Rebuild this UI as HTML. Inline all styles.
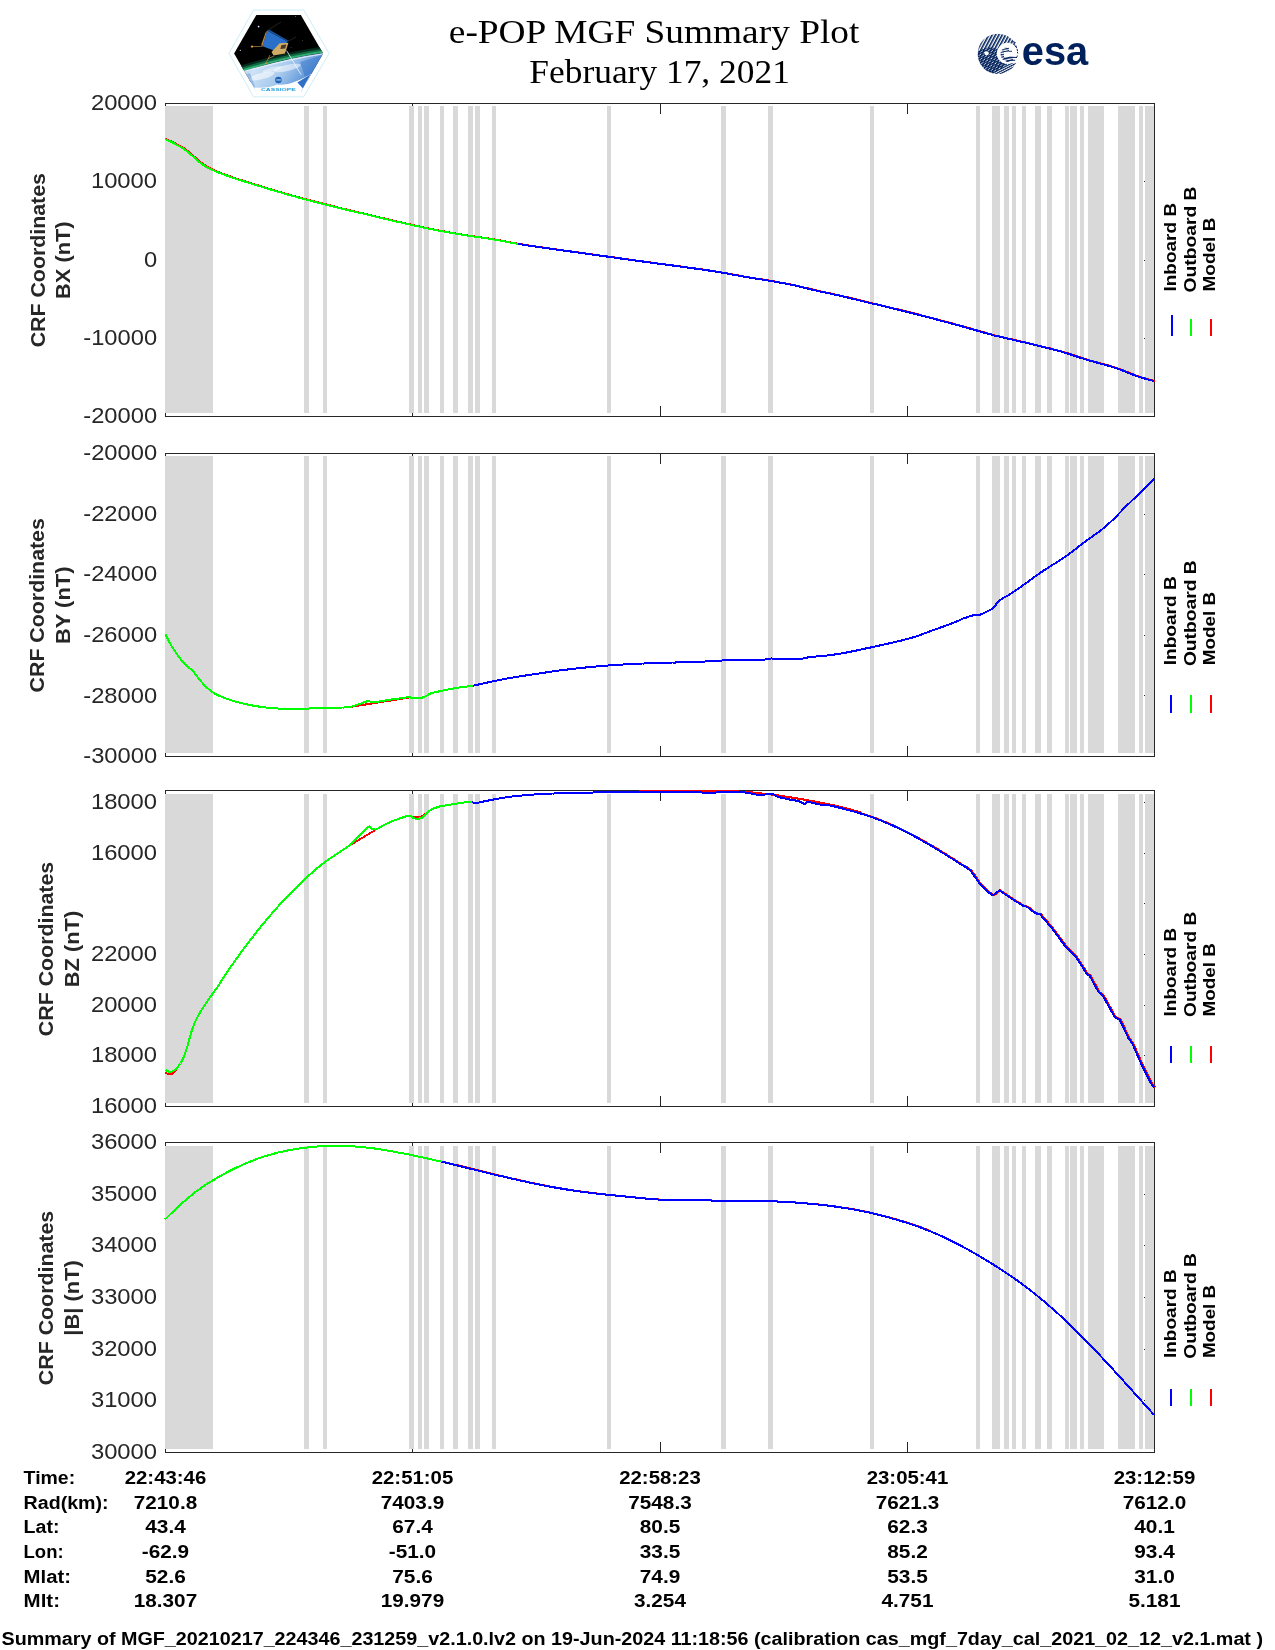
<!DOCTYPE html>
<html lang="en"><head><meta charset="utf-8"><title>e-POP MGF Summary Plot</title>
<style>
html,body{margin:0;padding:0;background:#fff}
body{width:1275px;height:1650px;overflow:hidden}
svg{display:block;opacity:0.999}
.t{font-family:"Liberation Sans",sans-serif;font-size:22.5px;fill:#262626}
.b{font-family:"Liberation Sans",sans-serif;font-weight:bold;fill:#262626}
.k{font-family:"Liberation Sans",sans-serif;font-weight:bold;fill:#000}
.s{font-family:"Liberation Serif",serif;fill:#000}
</style></head>
<body>
<svg width="1275" height="1650" viewBox="0 0 1275 1650">
<rect width="1275" height="1650" fill="#fff"/>
<g class="s" font-size="33" text-anchor="middle">
<text x="654.1" y="43.2" textLength="410.5" lengthAdjust="spacingAndGlyphs">e-POP MGF Summary Plot</text>
<text x="659.6" y="83.4" textLength="260.5" lengthAdjust="spacingAndGlyphs">February 17, 2021</text>
</g>
<defs>
<clipPath id="hx"><polygon points="234.1,53.4 256.35,14.9 300.85,14.9 323.1,53.4 300.85,91.9 256.35,91.9"/></clipPath>
<linearGradient id="eg" x1="0" y1="0" x2="1" y2="0.35"><stop offset="0" stop-color="#4f8fd6"/><stop offset="0.35" stop-color="#cfe2f6"/><stop offset="0.62" stop-color="#a9cbee"/><stop offset="1" stop-color="#3f7fd0"/></linearGradient>
<linearGradient id="ag" x1="0" y1="0" x2="0" y2="1"><stop offset="0" stop-color="#000"/><stop offset="0.45" stop-color="#0e5a3a"/><stop offset="0.8" stop-color="#27a066"/><stop offset="1" stop-color="#5fd09a"/></linearGradient>
<pattern id="ha" width="2.96" height="8" patternUnits="userSpaceOnUse" patternTransform="rotate(28 995 54)"><rect x="0" y="0" width="1.6" height="8" fill="#00205b"/></pattern>
<pattern id="hb" width="8" height="2.1" patternUnits="userSpaceOnUse" patternTransform="rotate(-27 995 54)"><rect x="0" y="0" width="8" height="1.15" fill="#00205b"/></pattern>
<pattern id="hc" width="8" height="2.4" patternUnits="userSpaceOnUse" patternTransform="rotate(-12 1008 54)"><rect x="0" y="0" width="8" height="1.2" fill="#00205b"/></pattern>
<mask id="cres"><rect x="960" y="20" width="80" height="70" fill="#000"/><circle cx="997.9" cy="53.9" r="20.2" fill="#fff"/><circle cx="1007.4" cy="53.4" r="10.6" fill="#000"/><circle cx="986.6" cy="53.3" r="2.1" fill="#000"/></mask>
<clipPath id="ca"><polygon points="973,28 1023,28 1023,50 1005,66 987,78 973,78"/></clipPath>
<clipPath id="cb"><polygon points="973,52 990,47 1001,50 1004,64 1023,62 1023,80 973,80"/></clipPath>
<clipPath id="cg"><path d="M1000,46 h9 v6 h-5 v5 h14 v6 h-18z"/></clipPath>
</defs>
<g id="cassiope">
<polygon points="228.9,53.4 253.6,10 303.7,10 329.2,53.4 303.7,96.8 253.6,96.8" fill="#fff" stroke="#c8eaf5" stroke-width="0.9"/>
<g clip-path="url(#hx)">
<rect x="230" y="12" width="98" height="70" fill="#000"/>
<path d="M230,71.5 Q282,54.5 326,48.6" fill="none" stroke="#06281a" stroke-width="5"/><path d="M230,73 Q282,56 326,50.1" fill="none" stroke="#0f6a43" stroke-width="3.4"/><path d="M230,74.3 Q282,57.3 326,51.4" fill="none" stroke="#2fae70" stroke-width="2"/>
<path d="M230,75.5 Q282,58.5 326,52.6 L326,95 L230,95Z" fill="url(#eg)"/>
<path d="M236,73.8 Q284,59.6 326,53.4" fill="none" stroke="#eaf4ff" stroke-width="1.1" opacity="0.8"/>
<ellipse cx="262" cy="76" rx="13" ry="3.2" fill="#fff" opacity="0.55" transform="rotate(-14 262 76)"/><ellipse cx="287" cy="68" rx="14" ry="3" fill="#fff" opacity="0.5" transform="rotate(-12 287 68)"/><ellipse cx="272" cy="69.5" rx="10" ry="2" fill="#fff" opacity="0.45" transform="rotate(-15 272 69.5)"/><path d="M300,62 L326,54 L326,80 L306,80Z" fill="#2f6fc6" opacity="0.45"/><path d="M236,78 L250,73 L256,90 L244,92Z" fill="#2f6fc6" opacity="0.35"/><path d="M236,95 L236,86.8 L252,87.2 C262,88.6 270,87.6 277,84.6 C287,86 299,81 312,73.6 L326,73 L326,95Z" fill="#fff"/>
<polygon points="297.4,82.6 310.6,74.2 303,88.6" fill="#2f6fc6"/>
<circle cx="278.4" cy="80" r="3.3" fill="#1d63b8"/><rect x="276.3" y="79.5" width="4.6" height="0.9" fill="#dbe9f8"/>
<polygon points="267.2,30.4 287.4,41.6 279.6,52.4 262.4,46.2" fill="#2a6fc8"/>
<polygon points="267.2,30.4 269.6,29.8 289,41 287.4,41.6" fill="#1b4f9a"/>
<polygon points="267.2,30.4 265.4,33 261.2,45 262.4,46.2" fill="#c58a3a"/>
<polygon points="279.6,43.2 288.4,42.8 285,53.6 273.6,55.6 271.5,52" fill="#d1ac66"/>
<polygon points="281.5,45 286.5,44.6 285.2,48.5 280.3,49" fill="#4a3a28"/>
<path d="M262.4,46.4 L252,46.6 M270,55 L266,63.2 M274,56 L268,58.6" stroke="#b98a48" stroke-width="0.7" fill="none"/>
<circle cx="252" cy="46.6" r="1.1" fill="#f0a030"/><circle cx="266" cy="63.4" r="0.8" fill="#e09a30"/>
<path d="M286.6,50.6 L301,74.6" stroke="#f4f8ff" stroke-width="0.8"/>
<path d="M267.4,30.4 L281,22 M287.4,41.6 L296,37" stroke="#554" stroke-width="0.4"/>
<circle cx="258.6" cy="26.6" r="0.85" fill="#e8e8ff"/><circle cx="240.3" cy="50.4" r="0.6" fill="#c9c9ee"/><circle cx="295.4" cy="16.6" r="0.45" fill="#ddd"/><circle cx="302.6" cy="40.4" r="0.4" fill="#999"/><circle cx="291" cy="47.6" r="0.4" fill="#aaa"/>
</g>
<text x="278.4" y="90.6" text-anchor="middle" font-family="Liberation Sans, sans-serif" font-weight="bold" font-size="4" fill="#25a0dc" textLength="35" lengthAdjust="spacingAndGlyphs">CASSIOPE</text>
</g>
<g id="esa">
<g mask="url(#cres)"><rect x="970" y="28" width="50" height="52" fill="url(#ha)" clip-path="url(#ca)"/><rect x="970" y="28" width="50" height="52" fill="url(#hb)" clip-path="url(#cb)"/></g>
<circle cx="1007.4" cy="53.4" r="10.2" fill="none" stroke="#00205b" stroke-width="1" stroke-dasharray="2.2 3.4" stroke-dashoffset="-25" pathLength="64" opacity="0.0"/>
<path d="M1012.5,41.6 l3,0.9 M1014.6,45.6 l2.4,2 M1017,49.4 l0.6,1.6 M1017.4,52 l0.3,1.4 M1017.3,55.6 l-0.3,1.3" stroke="#00205b" stroke-width="1" fill="none"/>
<g><circle cx="1007.8" cy="54.4" r="7.3" fill="url(#hc)" clip-path="url(#cg)"/>
<path d="M1003.6,58.8 q6,-2.6 13.4,-1.3 M1006.4,61.6 q4,-1.6 8.8,-1.4" stroke="#00205b" stroke-width="1" fill="none"/>
<path d="M1009,51.3 h3" stroke="#00205b" stroke-width="0.9"/></g>
<text x="1021.8" y="65.3" font-family="Liberation Sans, sans-serif" font-weight="bold" font-size="40.5" fill="#00205b" textLength="66.4" lengthAdjust="spacingAndGlyphs">esa</text>
</g>
<g id="panel1">
<g fill="#262626" shape-rendering="crispEdges">
<rect x="165" y="103" width="990" height="1"/><rect x="165" y="416" width="990" height="1"/><rect x="165" y="103" width="1" height="314"/><rect x="1154" y="103" width="1" height="314"/>
<rect x="412" y="103" width="1" height="11"/><rect x="412" y="406" width="1" height="11"/><rect x="660" y="103" width="1" height="11"/><rect x="660" y="406" width="1" height="11"/><rect x="907" y="103" width="1" height="11"/><rect x="907" y="406" width="1" height="11"/><rect x="1144" y="181" width="10" height="1"/><rect x="166" y="181" width="10" height="1"/><rect x="1144" y="260" width="10" height="1"/><rect x="166" y="260" width="10" height="1"/><rect x="1144" y="338" width="10" height="1"/><rect x="166" y="338" width="10" height="1"/>
</g>
<g fill="#d9d9d9" shape-rendering="crispEdges"><rect x="165" y="106" width="48" height="307"/><rect x="304" y="106" width="5" height="307"/><rect x="323" y="106" width="4" height="307"/><rect x="409" y="106" width="5" height="307"/><rect x="418" y="106" width="4" height="307"/><rect x="424" y="106" width="5" height="307"/><rect x="440" y="106" width="4" height="307"/><rect x="453" y="106" width="5" height="307"/><rect x="468" y="106" width="5" height="307"/><rect x="475" y="106" width="5" height="307"/><rect x="492" y="106" width="4" height="307"/><rect x="607" y="106" width="4" height="307"/><rect x="721" y="106" width="5" height="307"/><rect x="768" y="106" width="5" height="307"/><rect x="870" y="106" width="4" height="307"/><rect x="976" y="106" width="4" height="307"/><rect x="992" y="106" width="8" height="307"/><rect x="1004" y="106" width="5" height="307"/><rect x="1012" y="106" width="4" height="307"/><rect x="1022" y="106" width="4" height="307"/><rect x="1035" y="106" width="6" height="307"/><rect x="1047" y="106" width="5" height="307"/><rect x="1065" y="106" width="4" height="307"/><rect x="1070" y="106" width="7" height="307"/><rect x="1080" y="106" width="4" height="307"/><rect x="1088" y="106" width="16" height="307"/><rect x="1118" y="106" width="17" height="307"/><rect x="1139" y="106" width="4" height="307"/><rect x="1145" y="106" width="9" height="307"/></g>
<g fill="none" stroke-width="2" stroke-linejoin="round" shape-rendering="crispEdges">
<path d="M166.1,139.0 L168.1,140.0 L170.1,140.9 L172.1,141.9 L174.1,142.9 L176.1,143.9 L178.1,145.0 L180.1,146.1 L182.1,147.2 L184.1,148.4 L186.1,149.7 L188.1,151.4 L190.1,153.1 L192.1,154.8 L194.1,156.5 L196.1,158.3 L198.1,160.0 L200.1,161.7 L202.1,163.4 L204.1,164.7 L206.1,166.1 L208.1,167.4 L210.1,168.3 L212.1,169.3 L214.1,170.2 L216.1,171.1 L218.1,171.9 L220.1,172.7 L222.1,173.5 L224.1,174.3 L226.1,175.0 L228.1,175.7 L230.1,176.4 L232.1,177.1 L234.1,177.8 L236.1,178.5 L238.1,179.1 L240.1,179.8 L242.1,180.4 L244.1,181.1 L246.1,181.7 L248.1,182.3 L250.1,182.9 L252.1,183.6 L254.1,184.2 L256.1,184.8 L258.1,185.4 L260.1,186.0 L262.1,186.6 L264.1,187.2 L266.1,187.8 L268.1,188.5 L270.1,189.1 L272.1,189.7 L274.1,190.3 L276.1,190.9 L278.1,191.5 L280.1,192.0 L282.1,192.6 L284.1,193.2 L286.1,193.8 L288.1,194.4 L290.1,194.9 L292.1,195.5 L294.1,196.0 L296.1,196.6 L298.1,197.1 L300.1,197.7 L302.1,198.2 L304.1,198.8 L306.1,199.3 L308.1,199.8 L310.1,200.3 L312.1,200.8 L314.1,201.4 L316.1,201.9 L318.1,202.4 L320.1,202.9 L322.1,203.4 L324.1,203.9 L326.1,204.4 L328.1,204.9 L330.1,205.4 L332.1,205.9 L334.1,206.4 L336.1,207.0 L338.1,207.5 L340.1,208.0 L342.1,208.5 L344.1,209.0 L346.1,209.4 L348.1,209.9 L350.1,210.4 L352.1,210.9 L354.1,211.3 L356.1,211.8 L358.1,212.2 L360.1,212.7 L362.1,213.2 L364.1,213.6 L366.1,214.1 L368.1,214.6 L370.1,215.1 L372.1,215.5 L374.1,216.0 L376.1,216.5 L378.1,217.0 L380.1,217.5 L382.1,217.9 L384.1,218.4 L386.1,218.9 L388.1,219.3 L390.1,219.8 L392.1,220.3 L394.1,220.7 L396.1,221.2 L398.1,221.7 L400.1,222.1 L402.1,222.6 L404.1,223.0 L406.1,223.5 L408.1,223.9 L410.1,224.4 L412.1,224.8 L414.1,225.3 L416.1,225.7 L418.1,226.2 L420.1,226.6 L422.1,227.0 L424.1,227.5 L426.1,227.9 L428.1,228.3 L430.1,228.7 L432.1,229.1 L434.1,229.5 L436.1,229.9 L438.1,230.3 L440.1,230.7 L442.1,231.0 L444.1,231.4 L446.1,231.8 L448.1,232.1 L450.1,232.5 L452.1,232.8 L454.1,233.2 L456.1,233.5 L458.1,233.9 L460.1,234.2 L462.1,234.5 L464.1,234.8 L466.1,235.2 L468.1,235.5 L470.1,235.8 L472.1,236.1 L474.1,236.4 L476.1,236.7 L478.1,236.9 L480.1,237.2 L482.1,237.5 L484.1,237.8 L486.1,238.1 L488.1,238.4 L490.1,238.7 L492.1,239.1 L494.1,239.4 L496.1,239.7 L498.1,240.1 L500.1,240.4 L502.1,240.8 L504.1,241.2 L506.1,241.6 L508.1,241.9 L510.1,242.3 L512.1,242.7 L514.1,243.1 L516.1,243.4 L518.1,243.8 L520.1,244.1 L522.1,244.4 L524.1,244.8 L526.1,245.1 L528.1,245.4 L530.1,245.7 L532.1,246.0 L534.1,246.3 L536.1,246.5 L538.1,246.8 L540.1,247.1 L542.1,247.4 L544.1,247.7 L546.1,248.0 L548.1,248.2 L550.1,248.5 L552.1,248.8 L554.1,249.1 L556.1,249.4 L558.1,249.6 L560.1,249.9 L562.1,250.2 L564.1,250.5 L566.1,250.8 L568.1,251.0 L570.1,251.3 L572.1,251.6 L574.1,251.9 L576.1,252.2 L578.1,252.4 L580.1,252.7 L582.1,253.0 L584.1,253.3 L586.1,253.5 L588.1,253.8 L590.1,254.1 L592.1,254.4 L594.1,254.7 L596.1,254.9 L598.1,255.2 L600.1,255.5 L602.1,255.8 L604.1,256.0 L606.1,256.3 L608.1,256.6 L610.1,256.9 L612.1,257.2 L614.1,257.4 L616.1,257.7 L618.1,258.0 L620.1,258.3 L622.1,258.6 L624.1,258.8 L626.1,259.1 L628.1,259.4 L630.1,259.7 L632.1,260.0 L634.1,260.2 L636.1,260.5 L638.1,260.8 L640.1,261.1 L642.1,261.3 L644.1,261.6 L646.1,261.9 L648.1,262.2 L650.1,262.4 L652.1,262.7 L654.1,263.0 L656.1,263.2 L658.1,263.5 L660.1,263.8 L662.1,264.0 L664.1,264.3 L666.1,264.5 L668.1,264.8 L670.1,265.0 L672.1,265.3 L674.1,265.6 L676.1,265.8 L678.1,266.1 L680.1,266.4 L682.1,266.6 L684.1,266.9 L686.1,267.2 L688.1,267.5 L690.1,267.7 L692.1,268.0 L694.1,268.3 L696.1,268.6 L698.1,268.9 L700.1,269.1 L702.1,269.4 L704.1,269.7 L706.1,270.0 L708.1,270.3 L710.1,270.6 L712.1,270.9 L714.1,271.2 L716.1,271.5 L718.1,271.8 L720.1,272.2 L722.1,272.5 L724.1,272.8 L726.1,273.2 L728.1,273.5 L730.1,273.9 L732.1,274.3 L734.1,274.7 L736.1,275.0 L738.1,275.4 L740.1,275.8 L742.1,276.1 L744.1,276.5 L746.1,276.9 L748.1,277.2 L750.1,277.5 L752.1,277.9 L754.1,278.2 L756.1,278.5 L758.1,278.8 L760.1,279.1 L762.1,279.4 L764.1,279.8 L766.1,280.1 L768.1,280.4 L770.1,280.7 L772.1,281.1 L774.1,281.4 L776.1,281.8 L778.1,282.1 L780.1,282.5 L782.1,282.9 L784.1,283.2 L786.1,283.6 L788.1,284.0 L790.1,284.4 L792.1,284.8 L794.1,285.2 L796.1,285.6 L798.1,286.1 L800.1,286.5 L802.1,287.0 L804.1,287.5 L806.1,287.9 L808.1,288.4 L810.1,288.9 L812.1,289.4 L814.1,289.9 L816.1,290.3 L818.1,290.8 L820.1,291.2 L822.1,291.7 L824.1,292.1 L826.1,292.5 L828.1,293.0 L830.1,293.4 L832.1,293.8 L834.1,294.3 L836.1,294.7 L838.1,295.2 L840.1,295.6 L842.1,296.1 L844.1,296.5 L846.1,297.0 L848.1,297.4 L850.1,297.9 L852.1,298.4 L854.1,298.9 L856.1,299.3 L858.1,299.8 L860.1,300.3 L862.1,300.8 L864.1,301.2 L866.1,301.7 L868.1,302.2 L870.1,302.7 L872.1,303.2 L874.1,303.7 L876.1,304.1 L878.1,304.6 L880.1,305.1 L882.1,305.6 L884.1,306.1 L886.1,306.5 L888.1,307.0 L890.1,307.5 L892.1,308.0 L894.1,308.5 L896.1,309.0 L898.1,309.4 L900.1,309.9 L902.1,310.4 L904.1,310.9 L906.1,311.4 L908.1,311.9 L910.1,312.4 L912.1,312.9 L914.1,313.4 L916.1,313.9 L918.1,314.4 L920.1,315.0 L922.1,315.5 L924.1,316.0 L926.1,316.5 L928.1,317.0 L930.1,317.6 L932.1,318.1 L934.1,318.6 L936.1,319.1 L938.1,319.7 L940.1,320.2 L942.1,320.7 L944.1,321.2 L946.1,321.8 L948.1,322.3 L950.1,322.9 L952.1,323.4 L954.1,323.9 L956.1,324.5 L958.1,325.0 L960.1,325.6 L962.1,326.1 L964.1,326.7 L966.1,327.2 L968.1,327.8 L970.1,328.4 L972.1,329.0 L974.1,329.5 L976.1,330.1 L978.1,330.7 L980.1,331.3 L982.1,331.9 L984.1,332.4 L986.1,333.0 L988.1,333.6 L990.1,334.1 L992.1,334.6 L994.1,335.2 L996.1,335.7 L998.1,336.2 L1000.1,336.6 L1002.1,337.1 L1004.1,337.6 L1006.1,338.0 L1008.1,338.5 L1010.1,338.9 L1012.1,339.4 L1014.1,339.8 L1016.1,340.3 L1018.1,340.7 L1020.1,341.2 L1022.1,341.7 L1024.1,342.1 L1026.1,342.6 L1028.1,343.1 L1030.1,343.6 L1032.1,344.0 L1034.1,344.5 L1036.1,345.0 L1038.1,345.5 L1040.1,346.0 L1042.1,346.5 L1044.1,347.0 L1046.1,347.5 L1048.1,347.9 L1050.1,348.4 L1052.1,349.0 L1054.1,349.5 L1056.1,350.0 L1058.1,350.5 L1060.1,351.1 L1062.1,351.6 L1064.1,352.2 L1066.1,352.8 L1068.1,353.4 L1070.1,354.1 L1072.1,354.7 L1074.1,355.4 L1076.1,356.0 L1078.1,356.7 L1080.1,357.4 L1082.1,358.0 L1084.1,358.6 L1086.1,359.3 L1088.1,359.9 L1090.1,360.5 L1092.1,361.0 L1094.1,361.6 L1096.1,362.1 L1098.1,362.7 L1100.1,363.2 L1102.1,363.8 L1104.1,364.3 L1106.1,364.8 L1108.1,365.4 L1110.1,366.0 L1112.1,366.6 L1114.1,367.2 L1116.1,367.9 L1118.1,368.5 L1120.1,369.2 L1122.1,370.0 L1124.1,370.7 L1126.1,371.5 L1128.1,372.3 L1130.1,373.2 L1132.1,374.0 L1134.1,374.7 L1136.1,375.5 L1138.1,376.2 L1140.1,376.9 L1142.1,377.5 L1144.1,378.1 L1146.1,378.7 L1148.1,379.3 L1150.1,379.8 L1152.1,380.3 L1154.1,380.8 L1155.1,381.0" stroke="#f00"/>
<path d="M165.1,139.0 L167.1,140.0 L169.1,140.9 L171.1,141.9 L173.1,142.9 L175.1,143.9 L177.1,145.0 L179.1,146.1 L181.1,147.2 L183.1,148.4 L185.1,149.7 L187.1,151.4 L189.1,153.1 L191.1,154.8 L193.1,156.5 L195.1,158.3 L197.1,160.0 L199.1,161.7 L201.1,163.4 L203.1,164.7 L205.1,166.1 L207.1,167.4 L209.1,168.3 L211.1,169.3 L213.1,170.2 L215.1,171.1 L217.1,171.9 L219.1,172.7 L221.1,173.5 L223.1,174.3 L225.1,175.0 L227.1,175.7 L229.1,176.4 L231.1,177.1 L233.1,177.8 L235.1,178.5 L237.1,179.1 L239.1,179.8 L241.1,180.4 L243.1,181.1 L245.1,181.7 L247.1,182.3 L249.1,182.9 L251.1,183.6 L253.1,184.2 L255.1,184.8 L257.1,185.4 L259.1,186.0 L261.1,186.6 L263.1,187.2 L265.1,187.8 L267.1,188.5 L269.1,189.1 L271.1,189.7 L273.1,190.3 L275.1,190.9 L277.1,191.5 L279.1,192.0 L281.1,192.6 L283.1,193.2 L285.1,193.8 L287.1,194.4 L289.1,194.9 L291.1,195.5 L293.1,196.0 L295.1,196.6 L297.1,197.1 L299.1,197.7 L301.1,198.2 L303.1,198.8 L305.1,199.3 L307.1,199.8 L309.1,200.3 L311.1,200.8 L313.1,201.4 L315.1,201.9 L317.1,202.4 L319.1,202.9 L321.1,203.4 L323.1,203.9 L325.1,204.4 L327.1,204.9 L329.1,205.4 L331.1,205.9 L333.1,206.4 L335.1,207.0 L337.1,207.5 L339.1,208.0 L341.1,208.5 L343.1,209.0 L345.1,209.4 L347.1,209.9 L349.1,210.4 L351.1,210.9 L353.1,211.3 L355.1,211.8 L357.1,212.2 L359.1,212.7 L361.1,213.2 L363.1,213.6 L365.1,214.1 L367.1,214.6 L369.1,215.1 L371.1,215.5 L373.1,216.0 L375.1,216.5 L377.1,217.0 L379.1,217.5 L381.1,217.9 L383.1,218.4 L385.1,218.9 L387.1,219.3 L389.1,219.8 L391.1,220.3 L393.1,220.7 L395.1,221.2 L397.1,221.7 L399.1,222.1 L401.1,222.6 L403.1,223.0 L405.1,223.5 L407.1,223.9 L409.1,224.4 L411.1,224.8 L413.1,225.3 L415.1,225.7 L417.1,226.2 L419.1,226.6 L421.1,227.0 L423.1,227.5 L425.1,227.9 L427.1,228.3 L429.1,228.7 L431.1,229.1 L433.1,229.5 L435.1,229.9 L437.1,230.3 L439.1,230.7 L441.1,231.0 L443.1,231.4 L445.1,231.8 L447.1,232.1 L449.1,232.5 L451.1,232.8 L453.1,233.2 L455.1,233.5 L457.1,233.9 L459.1,234.2 L461.1,234.5 L463.1,234.8 L465.1,235.2 L467.1,235.5 L469.1,235.8 L471.1,236.1 L473.1,236.4 L475.1,236.7 L477.1,236.9 L479.1,237.2 L481.1,237.5 L483.1,237.8 L485.1,238.1 L487.1,238.4 L489.1,238.7 L491.1,239.1 L493.1,239.4 L495.1,239.7 L497.1,240.1 L499.1,240.4 L501.1,240.8 L503.1,241.2 L505.1,241.6 L507.1,241.9 L509.1,242.3 L511.1,242.7 L513.1,243.1 L515.1,243.4 L517.1,243.8 L518.0,243.9" stroke="#0f0"/>
<path d="M518.0,243.9 L519.1,244.1 L521.1,244.4 L523.1,244.8 L525.1,245.1 L527.1,245.4 L529.1,245.7 L531.1,246.0 L533.1,246.3 L535.1,246.5 L537.1,246.8 L539.1,247.1 L541.1,247.4 L543.1,247.7 L545.1,248.0 L547.1,248.2 L549.1,248.5 L551.1,248.8 L553.1,249.1 L555.1,249.4 L557.1,249.6 L559.1,249.9 L561.1,250.2 L563.1,250.5 L565.1,250.8 L567.1,251.0 L569.1,251.3 L571.1,251.6 L573.1,251.9 L575.1,252.2 L577.1,252.4 L579.1,252.7 L581.1,253.0 L583.1,253.3 L585.1,253.5 L587.1,253.8 L589.1,254.1 L591.1,254.4 L593.1,254.7 L595.1,254.9 L597.1,255.2 L599.1,255.5 L601.1,255.8 L603.1,256.0 L605.1,256.3 L607.1,256.6 L609.1,256.9 L611.1,257.2 L613.1,257.4 L615.1,257.7 L617.1,258.0 L619.1,258.3 L621.1,258.6 L623.1,258.8 L625.1,259.1 L627.1,259.4 L629.1,259.7 L631.1,260.0 L633.1,260.2 L635.1,260.5 L637.1,260.8 L639.1,261.1 L641.1,261.3 L643.1,261.6 L645.1,261.9 L647.1,262.2 L649.1,262.4 L651.1,262.7 L653.1,263.0 L655.1,263.2 L657.1,263.5 L659.1,263.8 L661.1,264.0 L663.1,264.3 L665.1,264.5 L667.1,264.8 L669.1,265.0 L671.1,265.3 L673.1,265.6 L675.1,265.8 L677.1,266.1 L679.1,266.4 L681.1,266.6 L683.1,266.9 L685.1,267.2 L687.1,267.5 L689.1,267.7 L691.1,268.0 L693.1,268.3 L695.1,268.6 L697.1,268.9 L699.1,269.1 L701.1,269.4 L703.1,269.7 L705.1,270.0 L707.1,270.3 L709.1,270.6 L711.1,270.9 L713.1,271.2 L715.1,271.5 L717.1,271.8 L719.1,272.2 L721.1,272.5 L723.1,272.8 L725.1,273.2 L727.1,273.5 L729.1,273.9 L731.1,274.3 L733.1,274.7 L735.1,275.0 L737.1,275.4 L739.1,275.8 L741.1,276.1 L743.1,276.5 L745.1,276.9 L747.1,277.2 L749.1,277.5 L751.1,277.9 L753.1,278.2 L755.1,278.5 L757.1,278.8 L759.1,279.1 L761.1,279.4 L763.1,279.8 L765.1,280.1 L767.1,280.4 L769.1,280.7 L771.1,281.1 L773.1,281.4 L775.1,281.8 L777.1,282.1 L779.1,282.5 L781.1,282.9 L783.1,283.2 L785.1,283.6 L787.1,284.0 L789.1,284.4 L791.1,284.8 L793.1,285.2 L795.1,285.6 L797.1,286.1 L799.1,286.5 L801.1,287.0 L803.1,287.5 L805.1,287.9 L807.1,288.4 L809.1,288.9 L811.1,289.4 L813.1,289.9 L815.1,290.3 L817.1,290.8 L819.1,291.2 L821.1,291.7 L823.1,292.1 L825.1,292.5 L827.1,293.0 L829.1,293.4 L831.1,293.8 L833.1,294.3 L835.1,294.7 L837.1,295.2 L839.1,295.6 L841.1,296.1 L843.1,296.5 L845.1,297.0 L847.1,297.4 L849.1,297.9 L851.1,298.4 L853.1,298.9 L855.1,299.3 L857.1,299.8 L859.1,300.3 L861.1,300.8 L863.1,301.2 L865.1,301.7 L867.1,302.2 L869.1,302.7 L871.1,303.2 L873.1,303.7 L875.1,304.1 L877.1,304.6 L879.1,305.1 L881.1,305.6 L883.1,306.1 L885.1,306.5 L887.1,307.0 L889.1,307.5 L891.1,308.0 L893.1,308.5 L895.1,309.0 L897.1,309.4 L899.1,309.9 L901.1,310.4 L903.1,310.9 L905.1,311.4 L907.1,311.9 L909.1,312.4 L911.1,312.9 L913.1,313.4 L915.1,313.9 L917.1,314.4 L919.1,315.0 L921.1,315.5 L923.1,316.0 L925.1,316.5 L927.1,317.0 L929.1,317.6 L931.1,318.1 L933.1,318.6 L935.1,319.1 L937.1,319.7 L939.1,320.2 L941.1,320.7 L943.1,321.2 L945.1,321.8 L947.1,322.3 L949.1,322.9 L951.1,323.4 L953.1,323.9 L955.1,324.5 L957.1,325.0 L959.1,325.6 L961.1,326.1 L963.1,326.7 L965.1,327.2 L967.1,327.8 L969.1,328.4 L971.1,329.0 L973.1,329.5 L975.1,330.1 L977.1,330.7 L979.1,331.3 L981.1,331.9 L983.1,332.4 L985.1,333.0 L987.1,333.6 L989.1,334.1 L991.1,334.6 L993.1,335.2 L995.1,335.7 L997.1,336.2 L999.1,336.6 L1001.1,337.1 L1003.1,337.6 L1005.1,338.0 L1007.1,338.5 L1009.1,338.9 L1011.1,339.4 L1013.1,339.8 L1015.1,340.3 L1017.1,340.7 L1019.1,341.2 L1021.1,341.7 L1023.1,342.1 L1025.1,342.6 L1027.1,343.1 L1029.1,343.6 L1031.1,344.0 L1033.1,344.5 L1035.1,345.0 L1037.1,345.5 L1039.1,346.0 L1041.1,346.5 L1043.1,347.0 L1045.1,347.5 L1047.1,347.9 L1049.1,348.4 L1051.1,349.0 L1053.1,349.5 L1055.1,350.0 L1057.1,350.5 L1059.1,351.1 L1061.1,351.6 L1063.1,352.2 L1065.1,352.8 L1067.1,353.4 L1069.1,354.1 L1071.1,354.7 L1073.1,355.4 L1075.1,356.0 L1077.1,356.7 L1079.1,357.4 L1081.1,358.0 L1083.1,358.6 L1085.1,359.3 L1087.1,359.9 L1089.1,360.5 L1091.1,361.0 L1093.1,361.6 L1095.1,362.1 L1097.1,362.7 L1099.1,363.2 L1101.1,363.8 L1103.1,364.3 L1105.1,364.8 L1107.1,365.4 L1109.1,366.0 L1111.1,366.6 L1113.1,367.2 L1115.1,367.9 L1117.1,368.5 L1119.1,369.2 L1121.1,370.0 L1123.1,370.7 L1125.1,371.5 L1127.1,372.3 L1129.1,373.2 L1131.1,374.0 L1133.1,374.7 L1135.1,375.5 L1137.1,376.2 L1139.1,376.9 L1141.1,377.5 L1143.1,378.1 L1145.1,378.7 L1147.1,379.3 L1149.1,379.8 L1151.1,380.3 L1153.1,380.8 L1154.1,381.0" stroke="#00f"/>
</g>
<g class="t" text-anchor="end">
<text x="157.1" y="110.1" textLength="66.2" lengthAdjust="spacingAndGlyphs">20000</text><text x="157.1" y="188.3" textLength="66.2" lengthAdjust="spacingAndGlyphs">10000</text><text x="157.1" y="266.6" textLength="13.2" lengthAdjust="spacingAndGlyphs">0</text><text x="157.1" y="344.9" textLength="73.8" lengthAdjust="spacingAndGlyphs">-10000</text><text x="157.1" y="423.1" textLength="73.8" lengthAdjust="spacingAndGlyphs">-20000</text>
</g>
<g class="b" font-size="19.5" text-anchor="middle"><text transform="translate(44.6,260.2) rotate(-90)" textLength="174.3" lengthAdjust="spacingAndGlyphs">CRF Coordinates</text><text transform="translate(69.9,260.2) rotate(-90)" textLength="77.6" lengthAdjust="spacingAndGlyphs">BX (nT)</text></g>
<g class="k" font-size="17"><text transform="translate(1176.3,291.5) rotate(-90)" textLength="88.6" lengthAdjust="spacingAndGlyphs">Inboard B</text><text transform="translate(1196.3,292.4) rotate(-90)" textLength="105.9" lengthAdjust="spacingAndGlyphs">Outboard B</text><text transform="translate(1215.2,291.5) rotate(-90)" textLength="73.9" lengthAdjust="spacingAndGlyphs">Model B</text></g>
<g shape-rendering="crispEdges"><rect x="1171" y="315" width="2" height="21" fill="#00f"/><rect x="1190" y="319" width="2" height="17" fill="#0f0"/><rect x="1210" y="319" width="2" height="17" fill="#f00"/></g>
</g>
<g id="panel2">
<g fill="#262626" shape-rendering="crispEdges">
<rect x="165" y="453" width="990" height="1"/><rect x="165" y="756" width="990" height="1"/><rect x="165" y="453" width="1" height="304"/><rect x="1154" y="453" width="1" height="304"/>
<rect x="412" y="453" width="1" height="11"/><rect x="412" y="746" width="1" height="11"/><rect x="660" y="453" width="1" height="11"/><rect x="660" y="746" width="1" height="11"/><rect x="907" y="453" width="1" height="11"/><rect x="907" y="746" width="1" height="11"/><rect x="1144" y="514" width="10" height="1"/><rect x="166" y="514" width="10" height="1"/><rect x="1144" y="574" width="10" height="1"/><rect x="166" y="574" width="10" height="1"/><rect x="1144" y="635" width="10" height="1"/><rect x="166" y="635" width="10" height="1"/><rect x="1144" y="695" width="10" height="1"/><rect x="166" y="695" width="10" height="1"/>
</g>
<g fill="#d9d9d9" shape-rendering="crispEdges"><rect x="165" y="456" width="48" height="297"/><rect x="304" y="456" width="5" height="297"/><rect x="323" y="456" width="4" height="297"/><rect x="409" y="456" width="5" height="297"/><rect x="418" y="456" width="4" height="297"/><rect x="424" y="456" width="5" height="297"/><rect x="440" y="456" width="4" height="297"/><rect x="453" y="456" width="5" height="297"/><rect x="468" y="456" width="5" height="297"/><rect x="475" y="456" width="5" height="297"/><rect x="492" y="456" width="4" height="297"/><rect x="607" y="456" width="4" height="297"/><rect x="721" y="456" width="5" height="297"/><rect x="768" y="456" width="5" height="297"/><rect x="870" y="456" width="4" height="297"/><rect x="976" y="456" width="4" height="297"/><rect x="992" y="456" width="8" height="297"/><rect x="1004" y="456" width="5" height="297"/><rect x="1012" y="456" width="4" height="297"/><rect x="1022" y="456" width="4" height="297"/><rect x="1035" y="456" width="6" height="297"/><rect x="1047" y="456" width="5" height="297"/><rect x="1065" y="456" width="4" height="297"/><rect x="1070" y="456" width="7" height="297"/><rect x="1080" y="456" width="4" height="297"/><rect x="1088" y="456" width="16" height="297"/><rect x="1118" y="456" width="17" height="297"/><rect x="1139" y="456" width="4" height="297"/><rect x="1145" y="456" width="9" height="297"/></g>
<g fill="none" stroke-width="2" stroke-linejoin="round" shape-rendering="crispEdges">
<path d="M165.5,634.4 L167.0,637.4 L168.5,640.5 L170.0,643.2 L171.5,645.9 L173.0,648.4 L174.5,650.7 L176.0,652.9 L177.5,655.1 L179.0,657.0 L180.5,659.0 L182.0,661.0 L183.5,662.7 L185.0,664.2 L186.5,665.6 L188.0,667.0 L189.5,668.1 L191.0,669.2 L192.5,670.5 L194.0,672.2 L195.5,674.2 L197.0,676.3 L198.5,678.4 L200.0,680.2 L201.5,681.9 L203.0,683.7 L204.5,685.2 L206.0,686.7 L207.5,688.2 L209.0,689.4 L210.5,690.6 L212.0,691.8 L213.5,692.9 L215.0,693.8 L216.5,694.5 L218.0,695.3 L219.5,695.9 L221.0,696.5 L222.5,697.1 L224.0,697.7 L225.5,698.3 L227.0,698.8 L228.5,699.3 L230.0,699.9 L231.5,700.4 L233.0,700.8 L234.5,701.3 L236.0,701.7 L237.5,702.2 L239.0,702.6 L240.5,702.9 L242.0,703.3 L243.5,703.7 L245.0,704.0 L246.5,704.3 L248.0,704.6 L249.5,704.9 L251.0,705.2 L252.5,705.5 L254.0,705.8 L255.5,706.0 L257.0,706.3 L258.5,706.5 L260.0,706.7 L261.5,706.9 L263.0,707.1 L264.5,707.3 L266.0,707.5 L267.5,707.7 L269.0,707.8 L270.5,707.9 L272.0,708.1 L273.5,708.2 L275.0,708.3 L276.5,708.4 L278.0,708.5 L279.5,708.5 L281.0,708.6 L282.5,708.6 L284.0,708.7 L285.5,708.7 L287.0,708.8 L288.5,708.8 L290.0,708.9 L291.5,708.9 L293.0,708.9 L294.5,708.9 L296.0,708.9 L297.5,708.9 L299.0,708.9 L300.5,708.8 L302.0,708.8 L303.5,708.7 L305.0,708.7 L306.5,708.6 L308.0,708.6 L309.5,708.5 L311.0,708.4 L312.5,708.3 L314.0,708.3 L315.5,708.2 L317.0,708.1 L318.5,708.1 L320.0,708.0 L321.5,708.0 L323.0,708.0 L324.5,707.9 L326.0,707.9 L327.5,707.9 L329.0,707.9 L330.5,707.8 L332.0,707.8 L333.5,707.8 L335.0,707.8 L336.5,707.7 L338.0,707.7 L339.5,707.7 L341.0,707.6 L342.5,707.5 L344.0,707.5 L345.5,707.3 L347.0,707.2 L348.5,707.1 L350.0,707.0 L410.0,697.4 L411.5,697.8 L413.0,698.2 L414.5,698.3 L416.0,698.3 L417.5,698.2 L419.0,698.1 L420.5,698.0 L422.0,697.7 L423.5,697.2 L425.0,696.5 L426.5,695.7 L428.0,694.8 L429.5,693.9 L431.0,693.3 L432.5,693.0 L434.0,692.6 L435.5,692.2 L437.0,691.9 L438.5,691.5 L440.0,691.2 L441.5,690.8 L443.0,690.5 L444.5,690.2 L446.0,689.9 L447.5,689.6 L449.0,689.4 L450.5,689.1 L452.0,688.8 L453.5,688.5 L455.0,688.2 L456.5,687.9 L458.0,687.6 L459.5,687.5 L461.0,687.3 L462.5,687.1 L464.0,686.9 L465.5,686.7 L467.0,686.5 L468.5,686.3 L470.0,686.1 L471.5,685.9 L473.0,685.7 L474.5,685.4 L476.0,685.1 L477.5,684.8 L479.0,684.4 L480.5,684.2 L482.0,683.8 L483.5,683.4 L485.0,683.1 L486.5,682.7 L488.0,682.4 L489.5,682.1 L491.0,681.8 L492.5,681.4 L494.0,681.1 L495.5,680.8 L497.0,680.5 L498.5,680.2 L500.0,679.9 L501.5,679.6 L503.0,679.3 L504.5,679.0 L506.0,678.7 L507.5,678.4 L509.0,678.1 L510.5,677.9 L512.0,677.6 L513.5,677.4 L515.0,677.1 L516.5,676.9 L518.0,676.6 L519.5,676.4 L521.0,676.2 L522.5,675.9 L524.0,675.7 L525.5,675.5 L527.0,675.3 L528.5,675.0 L530.0,674.8 L531.5,674.6 L533.0,674.4 L534.5,674.1 L536.0,673.9 L537.5,673.7 L539.0,673.5 L540.5,673.2 L542.0,673.0 L543.5,672.8 L545.0,672.6 L546.5,672.3 L548.0,672.1 L549.5,671.9 L551.0,671.7 L552.5,671.4 L554.0,671.2 L555.5,671.0 L557.0,670.8 L558.5,670.6 L560.0,670.4 L561.5,670.2 L563.0,670.0 L564.5,669.9 L566.0,669.7 L567.5,669.5 L569.0,669.3 L570.5,669.2 L572.0,669.0 L573.5,668.8 L575.0,668.6 L576.5,668.5 L578.0,668.3 L579.5,668.2 L581.0,668.0 L582.5,667.8 L584.0,667.7 L585.5,667.5 L587.0,667.4 L588.5,667.2 L590.0,667.1 L591.5,666.9 L593.0,666.8 L594.5,666.6 L596.0,666.5 L597.5,666.3 L599.0,666.2 L600.5,666.1 L602.0,666.0 L603.5,665.8 L605.0,665.7 L606.5,665.6 L608.0,665.5 L609.5,665.4 L611.0,665.3 L612.5,665.1 L614.0,665.0 L615.5,664.9 L617.0,664.9 L618.5,664.8 L620.0,664.7 L621.5,664.6 L623.0,664.5 L624.5,664.4 L626.0,664.3 L627.5,664.2 L629.0,664.2 L630.5,664.1 L632.0,664.0 L633.5,663.9 L635.0,663.9 L636.5,663.8 L638.0,663.7 L639.5,663.7 L641.0,663.6 L642.5,663.5 L644.0,663.5 L645.5,663.4 L647.0,663.4 L648.5,663.3 L650.0,663.3 L651.5,663.2 L653.0,663.1 L654.5,663.1 L656.0,663.0 L657.5,663.0 L659.0,662.9 L660.5,662.9 L662.0,662.9 L663.5,662.8 L665.0,662.8 L666.5,662.7 L668.0,662.7 L669.5,662.6 L671.0,662.6 L672.5,662.5 L674.0,662.5 L675.5,662.5 L677.0,662.4 L678.5,662.4 L680.0,662.3 L681.5,662.3 L683.0,662.2 L684.5,662.2 L686.0,662.2 L687.5,662.1 L689.0,662.1 L690.5,662.0 L692.0,662.0 L693.5,662.0 L695.0,661.9 L696.5,661.9 L698.0,661.8 L699.5,661.8 L701.0,661.7 L702.5,661.6 L704.0,661.6 L705.5,661.5 L707.0,661.4 L708.5,661.3 L710.0,661.2 L711.5,661.1 L713.0,661.0 L714.5,661.0 L716.0,660.9 L717.5,660.8 L719.0,660.7 L720.5,660.6 L722.0,660.5 L723.5,660.4 L725.0,660.4 L726.5,660.3 L728.0,660.2 L729.5,660.2 L731.0,660.1 L732.5,660.1 L734.0,660.1 L735.5,660.0 L737.0,660.0 L738.5,660.0 L740.0,660.0 L741.5,660.0 L743.0,659.9 L744.5,659.9 L746.0,659.9 L747.5,659.9 L749.0,659.9 L750.5,659.9 L752.0,659.8 L753.5,659.8 L755.0,659.7 L756.5,659.7 L758.0,659.7 L759.5,659.7 L761.0,659.7 L762.5,659.6 L764.0,659.6 L765.5,659.4 L767.0,659.2 L768.5,658.9 L770.0,658.6 L771.5,658.4 L773.0,658.6 L774.5,658.7 L776.0,658.9 L777.5,659.0 L779.0,659.0 L780.5,659.0 L782.0,658.9 L783.5,658.9 L785.0,658.9 L786.5,658.9 L788.0,658.9 L789.5,658.9 L791.0,658.8 L792.5,658.8 L794.0,658.8 L795.5,658.8 L797.0,658.8 L798.5,658.7 L800.0,658.7 L801.5,658.7 L803.0,658.5 L804.5,658.0 L806.0,657.7 L807.5,657.5 L809.0,657.4 L810.5,657.2 L812.0,657.1 L813.5,656.7 L815.0,656.6 L816.5,656.4 L818.0,656.3 L819.5,656.2 L821.0,656.1 L822.5,655.9 L824.0,655.8 L825.5,655.6 L827.0,655.5 L828.5,655.3 L830.0,655.1 L831.5,654.9 L833.0,654.7 L834.5,654.5 L836.0,654.3 L837.5,654.1 L839.0,653.9 L840.5,653.6 L842.0,653.4 L843.5,653.1 L845.0,652.8 L846.5,652.5 L848.0,652.2 L849.5,651.9 L851.0,651.6 L852.5,651.3 L854.0,651.0 L855.5,650.7 L857.0,650.4 L858.5,650.0 L860.0,649.7 L861.5,649.4 L863.0,649.1 L864.5,648.8 L866.0,648.4 L867.5,648.1 L869.0,647.8 L870.5,647.5 L872.0,647.1 L873.5,646.8 L875.0,646.5 L876.5,646.2 L878.0,645.8 L879.5,645.5 L881.0,645.2 L882.5,644.9 L884.0,644.5 L885.5,644.2 L887.0,643.9 L888.5,643.5 L890.0,643.2 L891.5,642.8 L893.0,642.5 L894.5,642.1 L896.0,641.8 L897.5,641.4 L899.0,641.1 L900.5,640.7 L902.0,640.4 L903.5,640.0 L905.0,639.6 L906.5,639.2 L908.0,638.8 L909.5,638.4 L911.0,638.0 L912.5,637.5 L914.0,637.1 L915.5,636.6 L917.0,636.1 L918.5,635.6 L920.0,635.0 L921.5,634.5 L923.0,634.0 L924.5,633.4 L926.0,632.8 L927.5,632.3 L929.0,631.7 L930.5,631.2 L932.0,630.6 L933.5,630.1 L935.0,629.5 L936.5,629.0 L938.0,628.5 L939.5,627.9 L941.0,627.4 L942.5,626.9 L944.0,626.3 L945.5,625.8 L947.0,625.2 L948.5,624.7 L950.0,624.1 L951.5,623.5 L953.0,623.0 L954.5,622.4 L956.0,621.8 L957.5,621.1 L959.0,620.4 L960.5,619.7 L962.0,619.0 L963.5,618.3 L965.0,618.2 L966.5,617.5 L968.0,616.9 L969.5,616.3 L971.0,615.7 L972.5,615.5 L974.0,615.4 L975.5,615.2 L977.0,615.0 L978.5,614.8 L980.0,614.6 L981.5,614.3 L983.0,613.5 L984.5,612.8 L986.0,612.1 L987.5,611.3 L989.0,610.6 L990.5,609.9 L992.0,609.1 L993.5,607.9 L995.0,605.9 L996.5,603.8 L998.0,601.8 L999.5,600.3 L1001.0,599.4 L1002.5,598.6 L1004.0,597.6 L1005.5,596.8 L1007.0,596.0 L1008.5,595.2 L1010.0,594.2 L1011.5,593.3 L1013.0,592.3 L1014.5,591.3 L1016.0,590.3 L1017.5,589.2 L1019.0,588.2 L1020.5,587.1 L1022.0,586.1 L1023.5,585.0 L1025.0,583.9 L1026.5,582.8 L1028.0,581.7 L1029.5,580.6 L1031.0,579.5 L1032.5,578.4 L1034.0,577.3 L1035.5,576.2 L1037.0,575.1 L1038.5,574.1 L1040.0,573.0 L1041.5,572.0 L1043.0,571.0 L1044.5,570.0 L1046.0,569.0 L1047.5,568.1 L1049.0,567.1 L1050.5,566.2 L1052.0,565.3 L1053.5,564.3 L1055.0,563.4 L1056.5,562.5 L1058.0,561.6 L1059.5,560.6 L1061.0,559.6 L1062.5,558.6 L1064.0,557.6 L1065.5,556.6 L1067.0,555.5 L1068.5,554.4 L1070.0,553.3 L1071.5,552.1 L1073.0,551.0 L1074.5,549.8 L1076.0,548.7 L1077.5,547.5 L1079.0,546.3 L1080.5,545.2 L1082.0,544.0 L1083.5,542.9 L1085.0,541.8 L1086.5,540.7 L1088.0,539.6 L1089.5,538.5 L1091.0,537.4 L1092.5,536.4 L1094.0,535.3 L1095.5,534.2 L1097.0,533.2 L1098.5,532.1 L1100.0,530.9 L1101.5,529.8 L1103.0,528.6 L1104.5,527.4 L1106.0,526.1 L1107.5,524.8 L1109.0,523.4 L1110.5,522.0 L1112.0,520.6 L1113.5,519.1 L1115.0,517.6 L1116.5,516.1 L1118.0,514.6 L1119.5,513.0 L1121.0,511.5 L1122.5,509.9 L1124.0,508.4 L1125.5,506.9 L1127.0,505.4 L1128.5,503.9 L1130.0,502.5 L1131.5,501.0 L1133.0,499.6 L1134.5,498.2 L1136.0,496.8 L1137.5,495.4 L1139.0,494.0 L1140.5,492.6 L1142.0,491.2 L1143.5,489.8 L1145.0,488.3 L1146.5,486.9 L1148.0,485.4 L1149.5,483.9 L1151.0,482.4 L1152.5,480.8 L1154.0,479.3 L1154.5,478.8" stroke="#f00"/>
<path d="M165.5,634.4 L167.0,637.4 L168.5,640.5 L170.0,643.2 L171.5,645.9 L173.0,648.4 L174.5,650.7 L176.0,652.9 L177.5,655.1 L179.0,657.0 L180.5,659.0 L182.0,661.0 L183.5,662.7 L185.0,664.2 L186.5,665.6 L188.0,667.0 L189.5,668.1 L191.0,669.2 L192.5,670.5 L194.0,672.2 L195.5,674.2 L197.0,676.3 L198.5,678.4 L200.0,680.2 L201.5,681.9 L203.0,683.7 L204.5,685.2 L206.0,686.7 L207.5,688.2 L209.0,689.4 L210.5,690.6 L212.0,691.8 L213.5,692.9 L215.0,693.8 L216.5,694.5 L218.0,695.3 L219.5,695.9 L221.0,696.5 L222.5,697.1 L224.0,697.7 L225.5,698.3 L227.0,698.8 L228.5,699.3 L230.0,699.9 L231.5,700.4 L233.0,700.8 L234.5,701.3 L236.0,701.7 L237.5,702.2 L239.0,702.6 L240.5,702.9 L242.0,703.3 L243.5,703.7 L245.0,704.0 L246.5,704.3 L248.0,704.6 L249.5,704.9 L251.0,705.2 L252.5,705.5 L254.0,705.8 L255.5,706.0 L257.0,706.3 L258.5,706.5 L260.0,706.7 L261.5,706.9 L263.0,707.1 L264.5,707.3 L266.0,707.5 L267.5,707.7 L269.0,707.8 L270.5,707.9 L272.0,708.1 L273.5,708.2 L275.0,708.3 L276.5,708.4 L278.0,708.5 L279.5,708.5 L281.0,708.6 L282.5,708.6 L284.0,708.7 L285.5,708.7 L287.0,708.8 L288.5,708.8 L290.0,708.9 L291.5,708.9 L293.0,708.9 L294.5,708.9 L296.0,708.9 L297.5,708.9 L299.0,708.9 L300.5,708.8 L302.0,708.8 L303.5,708.7 L305.0,708.7 L306.5,708.6 L308.0,708.6 L309.5,708.5 L311.0,708.4 L312.5,708.3 L314.0,708.3 L315.5,708.2 L317.0,708.1 L318.5,708.1 L320.0,708.0 L321.5,708.0 L323.0,708.0 L324.5,707.9 L326.0,707.9 L327.5,707.9 L329.0,707.9 L330.5,707.8 L332.0,707.8 L333.5,707.8 L335.0,707.8 L336.5,707.7 L338.0,707.7 L339.5,707.7 L341.0,707.6 L342.5,707.5 L344.0,707.5 L345.5,707.3 L347.0,707.2 L348.5,707.1 L350.0,707.0 L351.5,706.7 L353.0,706.2 L354.5,705.7 L356.0,705.2 L357.5,704.6 L359.0,704.1 L360.5,703.6 L362.0,703.1 L363.5,702.5 L365.0,702.0 L366.5,701.5 L368.0,701.0 L369.5,701.4 L371.0,701.9 L372.5,702.5 L374.0,702.4 L375.5,702.1 L377.0,701.9 L378.5,701.6 L380.0,701.4 L381.5,701.1 L383.0,700.8 L384.5,700.6 L386.0,700.3 L387.5,700.0 L389.0,699.8 L390.5,699.6 L392.0,699.4 L393.5,699.2 L395.0,699.0 L396.5,698.8 L398.0,698.6 L399.5,698.4 L401.0,698.2 L402.5,698.0 L404.0,697.8 L405.5,697.6 L407.0,697.4 L408.5,697.2 L410.0,697.4 L411.5,697.8 L413.0,698.2 L414.5,698.3 L416.0,698.3 L417.5,698.2 L419.0,698.1 L420.5,698.0 L422.0,697.7 L423.5,697.2 L425.0,696.5 L426.5,695.7 L428.0,694.8 L429.5,693.9 L431.0,693.3 L432.5,693.0 L434.0,692.6 L435.5,692.2 L437.0,691.9 L438.5,691.5 L440.0,691.2 L441.5,690.8 L443.0,690.5 L444.5,690.2 L446.0,689.9 L447.5,689.6 L449.0,689.4 L450.5,689.1 L452.0,688.8 L453.5,688.5 L455.0,688.2 L456.5,687.9 L458.0,687.6 L459.5,687.5 L461.0,687.3 L462.5,687.1 L464.0,686.9 L465.5,686.7 L467.0,686.5 L468.5,686.3 L470.0,686.1 L471.5,685.9 L473.0,685.7" stroke="#0f0"/>
<path d="M473.0,685.7 L474.5,685.4 L476.0,685.1 L477.5,684.8 L479.0,684.4 L480.5,684.2 L482.0,683.8 L483.5,683.4 L485.0,683.1 L486.5,682.7 L488.0,682.4 L489.5,682.1 L491.0,681.8 L492.5,681.4 L494.0,681.1 L495.5,680.8 L497.0,680.5 L498.5,680.2 L500.0,679.9 L501.5,679.6 L503.0,679.3 L504.5,679.0 L506.0,678.7 L507.5,678.4 L509.0,678.1 L510.5,677.9 L512.0,677.6 L513.5,677.4 L515.0,677.1 L516.5,676.9 L518.0,676.6 L519.5,676.4 L521.0,676.2 L522.5,675.9 L524.0,675.7 L525.5,675.5 L527.0,675.3 L528.5,675.0 L530.0,674.8 L531.5,674.6 L533.0,674.4 L534.5,674.1 L536.0,673.9 L537.5,673.7 L539.0,673.5 L540.5,673.2 L542.0,673.0 L543.5,672.8 L545.0,672.6 L546.5,672.3 L548.0,672.1 L549.5,671.9 L551.0,671.7 L552.5,671.4 L554.0,671.2 L555.5,671.0 L557.0,670.8 L558.5,670.6 L560.0,670.4 L561.5,670.2 L563.0,670.0 L564.5,669.9 L566.0,669.7 L567.5,669.5 L569.0,669.3 L570.5,669.2 L572.0,669.0 L573.5,668.8 L575.0,668.6 L576.5,668.5 L578.0,668.3 L579.5,668.2 L581.0,668.0 L582.5,667.8 L584.0,667.7 L585.5,667.5 L587.0,667.4 L588.5,667.2 L590.0,667.1 L591.5,666.9 L593.0,666.8 L594.5,666.6 L596.0,666.5 L597.5,666.3 L599.0,666.2 L600.5,666.1 L602.0,666.0 L603.5,665.8 L605.0,665.7 L606.5,665.6 L608.0,665.5 L609.5,665.4 L611.0,665.3 L612.5,665.1 L614.0,665.0 L615.5,664.9 L617.0,664.9 L618.5,664.8 L620.0,664.7 L621.5,664.6 L623.0,664.5 L624.5,664.4 L626.0,664.3 L627.5,664.2 L629.0,664.2 L630.5,664.1 L632.0,664.0 L633.5,663.9 L635.0,663.9 L636.5,663.8 L638.0,663.7 L639.5,663.7 L641.0,663.6 L642.5,663.5 L644.0,663.5 L645.5,663.4 L647.0,663.4 L648.5,663.3 L650.0,663.3 L651.5,663.2 L653.0,663.1 L654.5,663.1 L656.0,663.0 L657.5,663.0 L659.0,662.9 L660.5,662.9 L662.0,662.9 L663.5,662.8 L665.0,662.8 L666.5,662.7 L668.0,662.7 L669.5,662.6 L671.0,662.6 L672.5,662.5 L674.0,662.5 L675.5,662.5 L677.0,662.4 L678.5,662.4 L680.0,662.3 L681.5,662.3 L683.0,662.2 L684.5,662.2 L686.0,662.2 L687.5,662.1 L689.0,662.1 L690.5,662.0 L692.0,662.0 L693.5,662.0 L695.0,661.9 L696.5,661.9 L698.0,661.8 L699.5,661.8 L701.0,661.7 L702.5,661.6 L704.0,661.6 L705.5,661.5 L707.0,661.4 L708.5,661.3 L710.0,661.2 L711.5,661.1 L713.0,661.0 L714.5,661.0 L716.0,660.9 L717.5,660.8 L719.0,660.7 L720.5,660.6 L722.0,660.5 L723.5,660.4 L725.0,660.4 L726.5,660.3 L728.0,660.2 L729.5,660.2 L731.0,660.1 L732.5,660.1 L734.0,660.1 L735.5,660.0 L737.0,660.0 L738.5,660.0 L740.0,660.0 L741.5,660.0 L743.0,659.9 L744.5,659.9 L746.0,659.9 L747.5,659.9 L749.0,659.9 L750.5,659.9 L752.0,659.8 L753.5,659.8 L755.0,659.7 L756.5,659.7 L758.0,659.7 L759.5,659.7 L761.0,659.7 L762.5,659.6 L764.0,659.6 L765.5,659.4 L767.0,659.2 L768.5,658.9 L770.0,658.6 L771.5,658.4 L773.0,658.6 L774.5,658.7 L776.0,658.9 L777.5,659.0 L779.0,659.0 L780.5,659.0 L782.0,658.9 L783.5,658.9 L785.0,658.9 L786.5,658.9 L788.0,658.9 L789.5,658.9 L791.0,658.8 L792.5,658.8 L794.0,658.8 L795.5,658.8 L797.0,658.8 L798.5,658.7 L800.0,658.7 L801.5,658.7 L803.0,658.5 L804.5,658.0 L806.0,657.7 L807.5,657.5 L809.0,657.4 L810.5,657.2 L812.0,657.1 L813.5,656.7 L815.0,656.6 L816.5,656.4 L818.0,656.3 L819.5,656.2 L821.0,656.1 L822.5,655.9 L824.0,655.8 L825.5,655.6 L827.0,655.5 L828.5,655.3 L830.0,655.1 L831.5,654.9 L833.0,654.7 L834.5,654.5 L836.0,654.3 L837.5,654.1 L839.0,653.9 L840.5,653.6 L842.0,653.4 L843.5,653.1 L845.0,652.8 L846.5,652.5 L848.0,652.2 L849.5,651.9 L851.0,651.6 L852.5,651.3 L854.0,651.0 L855.5,650.7 L857.0,650.4 L858.5,650.0 L860.0,649.7 L861.5,649.4 L863.0,649.1 L864.5,648.8 L866.0,648.4 L867.5,648.1 L869.0,647.8 L870.5,647.5 L872.0,647.1 L873.5,646.8 L875.0,646.5 L876.5,646.2 L878.0,645.8 L879.5,645.5 L881.0,645.2 L882.5,644.9 L884.0,644.5 L885.5,644.2 L887.0,643.9 L888.5,643.5 L890.0,643.2 L891.5,642.8 L893.0,642.5 L894.5,642.1 L896.0,641.8 L897.5,641.4 L899.0,641.1 L900.5,640.7 L902.0,640.4 L903.5,640.0 L905.0,639.6 L906.5,639.2 L908.0,638.8 L909.5,638.4 L911.0,638.0 L912.5,637.5 L914.0,637.1 L915.5,636.6 L917.0,636.1 L918.5,635.6 L920.0,635.0 L921.5,634.5 L923.0,634.0 L924.5,633.4 L926.0,632.8 L927.5,632.3 L929.0,631.7 L930.5,631.2 L932.0,630.6 L933.5,630.1 L935.0,629.5 L936.5,629.0 L938.0,628.5 L939.5,627.9 L941.0,627.4 L942.5,626.9 L944.0,626.3 L945.5,625.8 L947.0,625.2 L948.5,624.7 L950.0,624.1 L951.5,623.5 L953.0,623.0 L954.5,622.4 L956.0,621.8 L957.5,621.1 L959.0,620.4 L960.5,619.7 L962.0,619.0 L963.5,618.3 L965.0,618.2 L966.5,617.5 L968.0,616.9 L969.5,616.3 L971.0,615.7 L972.5,615.5 L974.0,615.4 L975.5,615.2 L977.0,615.0 L978.5,614.8 L980.0,614.6 L981.5,614.3 L983.0,613.5 L984.5,612.8 L986.0,612.1 L987.5,611.3 L989.0,610.6 L990.5,609.9 L992.0,609.1 L993.5,607.9 L995.0,605.9 L996.5,603.8 L998.0,601.8 L999.5,600.3 L1001.0,599.4 L1002.5,598.6 L1004.0,597.6 L1005.5,596.8 L1007.0,596.0 L1008.5,595.2 L1010.0,594.2 L1011.5,593.3 L1013.0,592.3 L1014.5,591.3 L1016.0,590.3 L1017.5,589.2 L1019.0,588.2 L1020.5,587.1 L1022.0,586.1 L1023.5,585.0 L1025.0,583.9 L1026.5,582.8 L1028.0,581.7 L1029.5,580.6 L1031.0,579.5 L1032.5,578.4 L1034.0,577.3 L1035.5,576.2 L1037.0,575.1 L1038.5,574.1 L1040.0,573.0 L1041.5,572.0 L1043.0,571.0 L1044.5,570.0 L1046.0,569.0 L1047.5,568.1 L1049.0,567.1 L1050.5,566.2 L1052.0,565.3 L1053.5,564.3 L1055.0,563.4 L1056.5,562.5 L1058.0,561.6 L1059.5,560.6 L1061.0,559.6 L1062.5,558.6 L1064.0,557.6 L1065.5,556.6 L1067.0,555.5 L1068.5,554.4 L1070.0,553.3 L1071.5,552.1 L1073.0,551.0 L1074.5,549.8 L1076.0,548.7 L1077.5,547.5 L1079.0,546.3 L1080.5,545.2 L1082.0,544.0 L1083.5,542.9 L1085.0,541.8 L1086.5,540.7 L1088.0,539.6 L1089.5,538.5 L1091.0,537.4 L1092.5,536.4 L1094.0,535.3 L1095.5,534.2 L1097.0,533.2 L1098.5,532.1 L1100.0,530.9 L1101.5,529.8 L1103.0,528.6 L1104.5,527.4 L1106.0,526.1 L1107.5,524.8 L1109.0,523.4 L1110.5,522.0 L1112.0,520.6 L1113.5,519.1 L1115.0,517.6 L1116.5,516.1 L1118.0,514.6 L1119.5,513.0 L1121.0,511.5 L1122.5,509.9 L1124.0,508.4 L1125.5,506.9 L1127.0,505.4 L1128.5,503.9 L1130.0,502.5 L1131.5,501.0 L1133.0,499.6 L1134.5,498.2 L1136.0,496.8 L1137.5,495.4 L1139.0,494.0 L1140.5,492.6 L1142.0,491.2 L1143.5,489.8 L1145.0,488.3 L1146.5,486.9 L1148.0,485.4 L1149.5,483.9 L1151.0,482.4 L1152.5,480.8 L1154.0,479.3 L1154.5,478.8" stroke="#00f"/>
</g>
<g class="t" text-anchor="end">
<text x="157.1" y="460.1" textLength="73.8" lengthAdjust="spacingAndGlyphs">-20000</text><text x="157.1" y="520.7" textLength="73.8" lengthAdjust="spacingAndGlyphs">-22000</text><text x="157.1" y="581.3" textLength="73.8" lengthAdjust="spacingAndGlyphs">-24000</text><text x="157.1" y="641.9" textLength="73.8" lengthAdjust="spacingAndGlyphs">-26000</text><text x="157.1" y="702.5" textLength="73.8" lengthAdjust="spacingAndGlyphs">-28000</text><text x="157.1" y="763.1" textLength="73.8" lengthAdjust="spacingAndGlyphs">-30000</text>
</g>
<g class="b" font-size="19.5" text-anchor="middle"><text transform="translate(44.4,605.3) rotate(-90)" textLength="174.3" lengthAdjust="spacingAndGlyphs">CRF Coordinates</text><text transform="translate(70.1,605.3) rotate(-90)" textLength="77.6" lengthAdjust="spacingAndGlyphs">BY (nT)</text></g>
<g class="k" font-size="17"><text transform="translate(1176.3,665.3) rotate(-90)" textLength="89.1" lengthAdjust="spacingAndGlyphs">Inboard B</text><text transform="translate(1196.3,666.1) rotate(-90)" textLength="105.8" lengthAdjust="spacingAndGlyphs">Outboard B</text><text transform="translate(1215.2,665.3) rotate(-90)" textLength="73.3" lengthAdjust="spacingAndGlyphs">Model B</text></g>
<g shape-rendering="crispEdges"><rect x="1170" y="695" width="2" height="18" fill="#00f"/><rect x="1190" y="695" width="2" height="18" fill="#0f0"/><rect x="1210" y="695" width="2" height="18" fill="#f00"/></g>
</g>
<g id="panel3">
<g fill="#262626" shape-rendering="crispEdges">
<rect x="165" y="790" width="990" height="1"/><rect x="165" y="1106" width="990" height="1"/><rect x="165" y="790" width="1" height="317"/><rect x="1154" y="790" width="1" height="317"/>
<rect x="412" y="790" width="1" height="11"/><rect x="412" y="1096" width="1" height="11"/><rect x="660" y="790" width="1" height="11"/><rect x="660" y="1096" width="1" height="11"/><rect x="907" y="790" width="1" height="11"/><rect x="907" y="1096" width="1" height="11"/><rect x="1144" y="802" width="10" height="1"/><rect x="166" y="802" width="10" height="1"/><rect x="1144" y="853" width="10" height="1"/><rect x="166" y="853" width="10" height="1"/><rect x="1144" y="903" width="10" height="1"/><rect x="166" y="903" width="10" height="1"/><rect x="1144" y="954" width="10" height="1"/><rect x="166" y="954" width="10" height="1"/><rect x="1144" y="1005" width="10" height="1"/><rect x="166" y="1005" width="10" height="1"/><rect x="1144" y="1055" width="10" height="1"/><rect x="166" y="1055" width="10" height="1"/>
</g>
<g fill="#d9d9d9" shape-rendering="crispEdges"><rect x="165" y="794" width="48" height="309"/><rect x="304" y="794" width="5" height="309"/><rect x="323" y="794" width="4" height="309"/><rect x="409" y="794" width="5" height="309"/><rect x="418" y="794" width="4" height="309"/><rect x="424" y="794" width="5" height="309"/><rect x="440" y="794" width="4" height="309"/><rect x="453" y="794" width="5" height="309"/><rect x="468" y="794" width="5" height="309"/><rect x="475" y="794" width="5" height="309"/><rect x="492" y="794" width="4" height="309"/><rect x="607" y="794" width="4" height="309"/><rect x="721" y="794" width="5" height="309"/><rect x="768" y="794" width="5" height="309"/><rect x="870" y="794" width="4" height="309"/><rect x="976" y="794" width="4" height="309"/><rect x="992" y="794" width="8" height="309"/><rect x="1004" y="794" width="5" height="309"/><rect x="1012" y="794" width="4" height="309"/><rect x="1022" y="794" width="4" height="309"/><rect x="1035" y="794" width="6" height="309"/><rect x="1047" y="794" width="5" height="309"/><rect x="1065" y="794" width="4" height="309"/><rect x="1070" y="794" width="7" height="309"/><rect x="1080" y="794" width="4" height="309"/><rect x="1088" y="794" width="16" height="309"/><rect x="1118" y="794" width="17" height="309"/><rect x="1139" y="794" width="4" height="309"/><rect x="1145" y="794" width="9" height="309"/></g>
<g fill="none" stroke-width="2" stroke-linejoin="round" shape-rendering="crispEdges">
<path d="M165.5,1072.4 L167.0,1073.4 L168.5,1074.1 L170.0,1074.3 L171.5,1074.2 L173.0,1073.4 L174.5,1071.9 L176.0,1069.6 L177.5,1067.2 L179.0,1065.4 L180.5,1063.5 L182.0,1060.5 L183.5,1057.4 L185.0,1053.5 L186.5,1049.3 L188.0,1044.3 L189.5,1038.5 L191.0,1033.0 L192.5,1028.4 L194.0,1024.4 L195.5,1020.9 L197.0,1017.9 L198.5,1015.1 L200.0,1012.6 L201.5,1010.2 L203.0,1007.8 L204.5,1005.5 L206.0,1003.3 L207.5,1001.0 L209.0,998.9 L210.5,996.7 L212.0,994.5 L213.5,992.4 L215.0,990.4 L216.5,988.4 L218.0,986.3 L219.5,983.9 L221.0,981.5 L222.5,979.1 L224.0,976.6 L225.5,974.3 L227.0,972.1 L228.5,970.0 L230.0,967.8 L231.5,965.7 L233.0,963.6 L234.5,961.5 L236.0,959.4 L237.5,957.3 L239.0,955.2 L240.5,953.1 L242.0,951.1 L243.5,949.1 L245.0,947.0 L246.5,945.0 L248.0,943.0 L249.5,941.1 L251.0,939.1 L252.5,937.2 L254.0,935.2 L255.5,933.3 L257.0,931.4 L258.5,929.5 L260.0,927.7 L261.5,925.8 L263.0,924.0 L264.5,922.2 L266.0,920.4 L267.5,918.6 L269.0,916.8 L270.5,915.1 L272.0,913.3 L273.5,911.6 L275.0,909.9 L276.5,908.2 L278.0,906.5 L279.5,904.9 L281.0,903.2 L282.5,901.6 L284.0,899.9 L285.5,898.3 L287.0,896.8 L288.5,895.2 L290.0,893.6 L291.5,892.1 L293.0,890.6 L294.5,889.1 L296.0,887.6 L297.5,886.2 L299.0,884.7 L300.5,883.3 L302.0,881.9 L303.5,880.5 L305.0,879.1 L306.5,877.7 L308.0,876.3 L309.5,874.9 L311.0,873.6 L312.5,872.2 L314.0,870.9 L315.5,869.6 L317.0,868.3 L318.5,867.1 L320.0,865.9 L321.5,864.7 L323.0,863.5 L324.5,862.4 L326.0,861.3 L327.5,860.2 L329.0,859.2 L330.5,858.1 L332.0,857.1 L333.5,856.1 L335.0,855.1 L336.5,854.1 L338.0,853.1 L339.5,852.2 L341.0,851.2 L342.5,850.2 L344.0,849.3 L345.5,848.2 L347.0,847.2 L348.5,846.2 L350.0,845.2 L377.0,829.0 L378.5,828.1 L380.0,827.2 L381.5,826.4 L383.0,825.5 L384.5,824.7 L386.0,824.1 L387.5,823.4 L389.0,822.7 L390.5,822.0 L392.0,821.3 L393.5,820.7 L395.0,820.1 L396.5,819.6 L398.0,819.1 L399.5,818.5 L401.0,818.0 L402.5,817.5 L404.0,816.9 L405.5,816.5 L407.0,816.3 L408.5,816.0 L410.0,815.7 L411.5,816.7 L413.0,816.6 L414.5,816.9 L416.0,817.0 L417.5,817.1 L419.0,817.1 L420.5,816.6 L422.0,816.2 L423.5,815.4 L425.0,813.7 L426.5,813.7 L428.0,812.1 L429.5,810.8 L431.0,809.9 L432.5,808.9 L434.0,808.3 L435.5,807.9 L437.0,807.4 L438.5,806.9 L440.0,806.4 L441.5,806.1 L443.0,805.9 L444.5,805.6 L446.0,805.4 L447.5,805.1 L449.0,804.9 L450.5,804.6 L452.0,804.4 L453.5,804.1 L455.0,803.9 L456.5,803.6 L458.0,803.4 L459.5,803.2 L461.0,802.9 L462.5,802.7 L464.0,802.5 L465.5,802.2 L467.0,802.0 L468.5,801.8 L470.0,801.7 L471.5,802.1 L473.0,802.6 L474.5,803.1 L476.0,803.2 L477.5,802.8 L479.0,802.5 L480.5,802.3 L482.0,801.9 L483.5,801.5 L485.0,801.2 L486.5,800.9 L488.0,800.6 L489.5,800.3 L491.0,800.0 L492.5,799.7 L494.0,799.4 L495.5,799.1 L497.0,798.9 L498.5,798.6 L500.0,798.3 L501.5,798.1 L503.0,797.8 L504.5,797.6 L506.0,797.3 L507.5,797.1 L509.0,796.9 L510.5,796.7 L512.0,796.5 L513.5,796.4 L515.0,796.2 L516.5,796.0 L518.0,795.9 L519.5,795.7 L521.0,795.6 L522.5,795.4 L524.0,795.3 L525.5,795.2 L527.0,795.1 L528.5,794.9 L530.0,794.8 L531.5,794.7 L533.0,794.6 L534.5,794.5 L536.0,794.4 L537.5,794.3 L539.0,794.2 L540.5,794.1 L542.0,794.1 L543.5,794.0 L545.0,793.9 L546.5,793.8 L548.0,793.7 L549.5,793.7 L551.0,793.6 L552.5,793.5 L554.0,793.5 L555.5,793.4 L557.0,793.4 L558.5,793.3 L560.0,793.3 L561.5,793.2 L563.0,793.2 L564.5,793.1 L566.0,793.1 L567.5,793.0 L569.0,793.0 L570.5,793.0 L572.0,792.9 L573.5,792.9 L575.0,792.8 L576.5,792.8 L578.0,792.8 L579.5,792.7 L581.0,792.7 L582.5,792.7 L584.0,792.6 L585.5,792.6 L587.0,792.6 L588.5,792.6 L590.0,792.5 L591.5,792.5 L593.0,792.5 L594.5,792.4 L596.0,792.4 L597.5,792.4 L599.0,792.4 L600.5,792.3 L602.0,792.3 L603.5,792.3 L605.0,792.3 L606.5,792.2 L608.0,792.2 L609.5,792.2 L611.0,792.1 L612.5,792.1 L614.0,792.1 L615.5,792.1 L617.0,792.0 L618.5,792.0 L620.0,792.0 L621.5,792.0 L623.0,791.9 L624.5,791.9 L626.0,791.9 L627.5,791.9 L629.0,791.8 L630.5,791.8 L632.0,791.8 L633.5,791.8 L635.0,791.8 L636.5,791.8 L638.0,791.8 L639.5,791.9 L640.0,790.9 L641.5,790.9 L643.0,791.0 L644.5,791.0 L646.0,791.0 L647.5,791.1 L649.0,791.1 L650.5,791.1 L652.0,791.2 L653.5,791.2 L655.0,791.2 L656.5,791.2 L658.0,791.2 L659.5,791.2 L661.0,791.3 L662.5,791.3 L664.0,791.3 L665.5,791.3 L667.0,791.3 L668.5,791.3 L670.0,791.3 L671.5,791.3 L673.0,791.3 L674.5,791.3 L676.0,791.3 L677.5,791.3 L679.0,791.3 L680.5,791.3 L682.0,791.3 L683.5,791.3 L685.0,791.3 L686.5,791.2 L688.0,791.2 L689.5,791.2 L691.0,791.2 L692.5,791.2 L694.0,791.2 L695.5,791.1 L697.0,791.1 L698.5,791.1 L700.0,791.1 L701.5,791.1 L703.0,791.0 L704.5,791.0 L706.0,791.0 L707.5,791.0 L709.0,791.0 L710.5,791.0 L712.0,791.0 L713.5,790.9 L715.0,790.9 L716.5,790.9 L718.0,790.9 L719.5,791.0 L721.0,791.0 L722.5,791.0 L724.0,791.0 L725.5,791.0 L727.0,791.0 L728.5,791.1 L730.0,791.1 L731.5,791.2 L733.0,791.2 L734.5,791.3 L736.0,791.4 L737.5,791.4 L739.0,791.5 L740.5,791.6 L742.0,791.7 L743.5,791.8 L745.0,791.9 L746.5,792.0 L748.0,792.2 L749.5,792.3 L751.0,792.4 L752.5,792.5 L754.0,792.7 L755.5,792.8 L757.0,793.0 L758.5,793.1 L760.0,793.3 L761.5,793.4 L763.0,793.6 L764.5,793.7 L766.0,793.9 L767.5,794.1 L769.0,794.3 L770.5,794.4 L772.0,794.6 L773.5,794.8 L775.0,795.0 L776.5,795.2 L778.0,795.4 L779.5,795.7 L781.0,795.9 L782.5,796.1 L784.0,796.3 L785.5,796.6 L787.0,796.8 L788.5,797.0 L790.0,797.3 L791.5,797.5 L793.0,797.8 L794.5,798.0 L796.0,798.3 L797.5,798.5 L799.0,798.8 L800.5,799.0 L802.0,799.3 L803.5,799.5 L805.0,799.8 L806.5,800.1 L808.0,800.3 L809.5,800.6 L811.0,800.9 L812.5,801.1 L814.0,801.4 L815.5,801.7 L817.0,801.9 L818.5,802.2 L820.0,802.5 L821.5,802.8 L823.0,803.1 L824.5,803.4 L826.0,803.6 L827.5,803.9 L829.0,804.3 L830.5,804.6 L832.0,804.9 L833.5,805.2 L835.0,805.6 L836.5,805.9 L838.0,806.3 L839.5,806.7 L841.0,807.0 L842.5,807.4 L844.0,807.8 L845.5,808.2 L847.0,808.6 L848.5,809.0 L850.0,809.4 L851.5,809.8 L853.0,810.2 L854.5,810.6 L856.0,811.0 L857.5,811.4 L859.0,811.8 L860.0,812.1 L862.5,813.8 L864.0,814.2 L865.5,814.7 L867.0,815.2 L868.5,815.7 L870.0,816.2 L871.5,816.7 L873.0,817.2 L874.5,817.8 L876.0,818.3 L877.5,818.9 L879.0,819.5 L880.5,820.0 L882.0,820.6 L883.5,821.2 L885.0,821.8 L886.5,822.5 L888.0,823.1 L889.5,823.7 L891.0,824.4 L892.5,825.0 L894.0,825.7 L895.5,826.4 L897.0,827.1 L898.5,827.8 L900.0,828.5 L901.5,829.2 L903.0,829.9 L904.5,830.7 L906.0,831.4 L907.5,832.2 L909.0,832.9 L910.5,833.7 L912.0,834.5 L913.5,835.3 L915.0,836.1 L916.5,836.9 L918.0,837.7 L919.5,838.5 L921.0,839.4 L922.5,840.2 L924.0,841.1 L925.5,841.9 L927.0,842.8 L928.5,843.7 L930.0,844.5 L931.5,845.4 L933.0,846.3 L934.5,847.2 L936.0,848.1 L937.5,849.0 L939.0,849.9 L940.5,850.9 L942.0,851.8 L943.5,852.7 L945.0,853.6 L946.5,854.6 L948.0,855.5 L949.5,856.4 L951.0,857.4 L952.5,858.3 L954.0,859.3 L955.5,860.2 L957.0,861.2 L958.5,862.2 L960.0,863.1 L961.5,864.1 L963.0,865.0 L964.5,865.8 L966.0,866.7 L967.5,867.6 L969.0,868.8 L970.5,869.7 L972.0,871.2 L973.5,873.3 L975.0,875.5 L976.5,877.6 L978.0,879.7 L979.5,881.9 L981.0,883.8 L982.5,885.4 L984.0,887.0 L985.5,888.7 L987.0,890.3 L988.5,891.7 L990.0,892.7 L991.5,893.7 L993.0,894.7 L994.5,895.0 L996.0,893.8 L997.5,892.6 L999.0,891.4 L1000.5,890.5 L1002.0,891.5 L1003.5,892.5 L1005.0,893.5 L1006.5,894.5 L1008.0,895.5 L1009.5,896.5 L1011.0,897.5 L1012.5,898.5 L1014.0,899.4 L1015.5,900.4 L1017.0,901.4 L1018.5,902.3 L1020.0,903.3 L1021.5,904.3 L1023.0,905.2 L1024.5,906.1 L1026.0,906.3 L1027.5,906.6 L1029.0,907.5 L1030.5,908.7 L1032.0,909.9 L1033.5,911.0 L1035.0,912.2 L1036.5,913.3 L1038.0,913.6 L1039.5,913.6 L1041.0,914.3 L1042.5,916.0 L1044.0,917.8 L1045.5,919.5 L1047.0,921.2 L1048.5,923.0 L1050.0,924.7 L1051.5,926.5 L1053.0,928.4 L1054.5,930.4 L1056.0,932.4 L1057.5,934.4 L1059.0,936.4 L1060.5,938.5 L1062.0,940.5 L1063.5,942.5 L1065.0,944.5 L1066.5,946.5 L1068.0,948.1 L1069.5,949.6 L1071.0,951.1 L1072.5,952.5 L1074.0,954.0 L1075.5,955.5 L1077.0,957.1 L1078.5,959.4 L1080.0,961.7 L1081.5,964.1 L1083.0,966.4 L1084.5,968.7 L1086.0,971.1 L1087.5,973.4 L1089.0,974.9 L1090.5,975.6 L1092.0,978.1 L1093.5,980.9 L1095.0,983.7 L1096.5,986.5 L1098.0,989.3 L1099.5,992.1 L1101.0,993.1 L1102.5,994.1 L1104.0,996.0 L1105.5,998.7 L1107.0,1001.4 L1108.5,1004.1 L1110.0,1006.8 L1111.5,1009.5 L1113.0,1012.2 L1114.5,1014.9 L1116.0,1017.3 L1117.5,1018.1 L1119.0,1018.8 L1120.5,1019.6 L1122.0,1022.3 L1123.5,1025.5 L1125.0,1028.7 L1126.5,1031.9 L1128.0,1035.1 L1129.5,1038.3 L1131.0,1040.4 L1132.5,1042.4 L1134.0,1045.1 L1135.5,1048.5 L1137.0,1052.0 L1138.5,1055.4 L1140.0,1058.8 L1141.5,1062.2 L1143.0,1065.4 L1144.5,1068.4 L1146.0,1071.4 L1147.5,1074.3 L1149.0,1077.3 L1150.5,1080.3 L1152.0,1083.3 L1153.5,1085.2 L1155.0,1086.8 L1155.5,1087.4" stroke="#f00"/>
<path d="M165.5,1069.8 L167.0,1070.8 L168.5,1071.5 L170.0,1071.7 L171.5,1071.6 L173.0,1071.0 L174.5,1070.3 L176.0,1068.8 L177.5,1067.2 L179.0,1065.4 L180.5,1063.5 L182.0,1060.5 L183.5,1057.4 L185.0,1053.5 L186.5,1049.3 L188.0,1044.3 L189.5,1038.5 L191.0,1033.0 L192.5,1028.4 L194.0,1024.4 L195.5,1020.9 L197.0,1017.9 L198.5,1015.1 L200.0,1012.6 L201.5,1010.2 L203.0,1007.8 L204.5,1005.5 L206.0,1003.3 L207.5,1001.0 L209.0,998.9 L210.5,996.7 L212.0,994.5 L213.5,992.4 L215.0,990.4 L216.5,988.4 L218.0,986.3 L219.5,983.9 L221.0,981.5 L222.5,979.1 L224.0,976.6 L225.5,974.3 L227.0,972.1 L228.5,970.0 L230.0,967.8 L231.5,965.7 L233.0,963.6 L234.5,961.5 L236.0,959.4 L237.5,957.3 L239.0,955.2 L240.5,953.1 L242.0,951.1 L243.5,949.1 L245.0,947.0 L246.5,945.0 L248.0,943.0 L249.5,941.1 L251.0,939.1 L252.5,937.2 L254.0,935.2 L255.5,933.3 L257.0,931.4 L258.5,929.5 L260.0,927.7 L261.5,925.8 L263.0,924.0 L264.5,922.2 L266.0,920.4 L267.5,918.6 L269.0,916.8 L270.5,915.1 L272.0,913.3 L273.5,911.6 L275.0,909.9 L276.5,908.2 L278.0,906.5 L279.5,904.9 L281.0,903.2 L282.5,901.6 L284.0,899.9 L285.5,898.3 L287.0,896.8 L288.5,895.2 L290.0,893.6 L291.5,892.1 L293.0,890.6 L294.5,889.1 L296.0,887.6 L297.5,886.2 L299.0,884.7 L300.5,883.3 L302.0,881.9 L303.5,880.5 L305.0,879.1 L306.5,877.7 L308.0,876.3 L309.5,874.9 L311.0,873.6 L312.5,872.2 L314.0,870.9 L315.5,869.6 L317.0,868.3 L318.5,867.1 L320.0,865.9 L321.5,864.7 L323.0,863.5 L324.5,862.4 L326.0,861.3 L327.5,860.2 L329.0,859.2 L330.5,858.1 L332.0,857.1 L333.5,856.1 L335.0,855.1 L336.5,854.1 L338.0,853.1 L339.5,852.2 L341.0,851.2 L342.5,850.2 L344.0,849.3 L345.5,848.2 L347.0,847.2 L348.5,846.2 L350.0,845.2 L351.5,843.8 L353.0,842.3 L354.5,840.8 L356.0,839.3 L357.5,837.8 L359.0,836.3 L360.5,834.8 L362.0,833.3 L363.5,831.8 L365.0,830.3 L366.5,828.8 L368.0,827.3 L369.5,826.0 L371.0,828.3 L372.5,828.8 L374.0,829.2 L375.5,829.6 L377.0,829.0 L378.5,828.1 L380.0,827.2 L381.5,826.4 L383.0,825.5 L384.5,824.7 L386.0,824.1 L387.5,823.4 L389.0,822.7 L390.5,822.0 L392.0,821.3 L393.5,820.7 L395.0,820.1 L396.5,819.6 L398.0,819.1 L399.5,818.5 L401.0,818.0 L402.5,817.5 L404.0,816.9 L405.5,816.5 L407.0,816.3 L408.5,816.0 L410.0,815.7 L411.5,816.7 L413.0,818.2 L414.5,818.5 L416.0,818.6 L417.5,818.7 L419.0,818.7 L420.5,818.2 L422.0,817.8 L423.5,817.0 L425.0,815.3 L426.5,813.7 L428.0,812.1 L429.5,810.8 L431.0,809.9 L432.5,808.9 L434.0,808.3 L435.5,807.9 L437.0,807.4 L438.5,806.9 L440.0,806.4 L441.5,806.1 L443.0,805.9 L444.5,805.6 L446.0,805.4 L447.5,805.1 L449.0,804.9 L450.5,804.6 L452.0,804.4 L453.5,804.1 L455.0,803.9 L456.5,803.6 L458.0,803.4 L459.5,803.2 L461.0,802.9 L462.5,802.7 L464.0,802.5 L465.5,802.2 L467.0,802.0 L468.5,801.8 L470.0,801.7 L471.5,802.1 L472.0,802.3" stroke="#0f0"/>
<path d="M472.0,802.3 L473.0,802.6 L474.5,803.1 L476.0,803.2 L477.5,802.8 L479.0,802.5 L480.5,802.3 L482.0,801.9 L483.5,801.5 L485.0,801.2 L486.5,800.9 L488.0,800.6 L489.5,800.3 L491.0,800.0 L492.5,799.7 L494.0,799.4 L495.5,799.1 L497.0,798.9 L498.5,798.6 L500.0,798.3 L501.5,798.1 L503.0,797.8 L504.5,797.6 L506.0,797.3 L507.5,797.1 L509.0,796.9 L510.5,796.7 L512.0,796.5 L513.5,796.4 L515.0,796.2 L516.5,796.0 L518.0,795.9 L519.5,795.7 L521.0,795.6 L522.5,795.4 L524.0,795.3 L525.5,795.2 L527.0,795.1 L528.5,794.9 L530.0,794.8 L531.5,794.7 L533.0,794.6 L534.5,794.5 L536.0,794.4 L537.5,794.3 L539.0,794.2 L540.5,794.1 L542.0,794.1 L543.5,794.0 L545.0,793.9 L546.5,793.8 L548.0,793.7 L549.5,793.7 L551.0,793.6 L552.5,793.5 L554.0,793.5 L555.5,793.4 L557.0,793.4 L558.5,793.3 L560.0,793.3 L561.5,793.2 L563.0,793.2 L564.5,793.1 L566.0,793.1 L567.5,793.0 L569.0,793.0 L570.5,793.0 L572.0,792.9 L573.5,792.9 L575.0,792.8 L576.5,792.8 L578.0,792.8 L579.5,792.7 L581.0,792.7 L582.5,792.7 L584.0,792.6 L585.5,792.6 L587.0,792.6 L588.5,792.6 L590.0,792.5 L591.5,792.5 L593.0,792.5 L594.5,792.4 L596.0,792.4 L597.5,792.4 L599.0,792.4 L600.5,792.3 L602.0,792.3 L603.5,792.3 L605.0,792.3 L606.5,792.2 L608.0,792.2 L609.5,792.2 L611.0,792.1 L612.5,792.1 L614.0,792.1 L615.5,792.1 L617.0,792.0 L618.5,792.0 L620.0,792.0 L621.5,792.0 L623.0,791.9 L624.5,791.9 L626.0,791.9 L627.5,791.9 L629.0,791.8 L630.5,791.8 L632.0,791.8 L633.5,791.8 L635.0,791.8 L636.5,791.8 L638.0,791.8 L639.5,791.9 L641.0,791.9 L642.5,791.9 L644.0,791.9 L645.5,792.0 L647.0,792.0 L648.5,792.1 L650.0,792.1 L651.5,792.1 L653.0,792.2 L654.5,792.2 L656.0,792.2 L657.5,792.3 L659.0,792.3 L660.5,792.3 L662.0,792.3 L663.5,792.4 L665.0,792.4 L666.5,792.4 L668.0,792.4 L669.5,792.4 L671.0,792.4 L672.5,792.4 L674.0,792.4 L675.5,792.4 L677.0,792.4 L678.5,792.4 L680.0,792.4 L681.5,792.4 L683.0,792.4 L684.5,792.4 L686.0,792.4 L687.5,792.4 L689.0,792.4 L690.5,792.4 L692.0,792.4 L693.5,792.3 L695.0,792.1 L696.5,792.0 L698.0,791.9 L699.5,791.8 L701.0,792.0 L702.5,792.8 L704.0,793.5 L705.5,793.4 L707.0,793.3 L708.5,793.1 L710.0,793.0 L711.5,792.9 L713.0,792.8 L714.5,792.6 L716.0,792.5 L717.5,792.4 L719.0,792.2 L720.5,792.1 L722.0,792.0 L723.5,791.8 L725.0,791.7 L726.5,791.6 L728.0,791.7 L729.5,791.8 L731.0,791.8 L732.5,791.9 L734.0,792.0 L735.5,792.0 L737.0,792.1 L738.5,792.2 L740.0,792.3 L741.5,792.3 L743.0,792.4 L744.5,792.5 L746.0,792.6 L747.5,792.7 L749.0,793.0 L750.5,793.3 L752.0,793.7 L753.5,794.0 L755.0,794.3 L756.5,794.6 L758.0,794.9 L759.5,795.2 L761.0,795.5 L762.5,795.1 L764.0,794.7 L765.5,794.3 L767.0,794.0 L768.5,793.8 L770.0,793.8 L771.5,793.8 L773.0,793.9 L774.5,794.9 L776.0,795.9 L777.5,796.8 L779.0,797.1 L780.5,797.5 L782.0,797.8 L783.5,798.2 L785.0,798.5 L786.5,798.9 L788.0,799.2 L789.5,799.5 L791.0,799.8 L792.5,800.0 L794.0,800.3 L795.5,800.5 L797.0,800.8 L798.5,801.0 L800.0,801.7 L801.5,802.5 L803.0,803.3 L804.5,804.0 L806.0,803.0 L807.5,801.6 L809.0,802.0 L810.5,802.3 L812.0,802.7 L813.5,803.1 L815.0,803.4 L816.5,803.8 L818.0,804.1 L819.5,804.5 L821.0,804.6 L822.5,804.8 L824.0,804.9 L825.5,805.1 L827.0,805.2 L828.5,805.4 L830.0,805.5 L831.5,805.8 L833.0,806.2 L834.5,806.5 L836.0,806.9 L837.5,807.3 L839.0,807.6 L840.5,808.0 L842.0,808.4 L843.5,808.8 L845.0,809.2 L846.5,809.6 L848.0,809.9 L849.5,810.3 L851.0,810.7 L852.5,811.2 L854.0,811.6 L855.5,812.0 L857.0,812.4 L858.5,812.9 L860.0,813.3 L861.5,813.8 L863.0,814.2 L864.5,814.7 L866.0,815.2 L867.5,815.7 L869.0,816.2 L870.5,816.7 L872.0,817.2 L873.5,817.8 L875.0,818.3 L876.5,818.9 L878.0,819.5 L879.5,820.0 L881.0,820.6 L882.5,821.2 L884.0,821.8 L885.5,822.5 L887.0,823.1 L888.5,823.7 L890.0,824.4 L891.5,825.0 L893.0,825.7 L894.5,826.4 L896.0,827.1 L897.5,827.8 L899.0,828.5 L900.5,829.2 L902.0,829.9 L903.5,830.7 L905.0,831.4 L906.5,832.2 L908.0,832.9 L909.5,833.7 L911.0,834.5 L912.5,835.3 L914.0,836.1 L915.5,836.9 L917.0,837.7 L918.5,838.5 L920.0,839.4 L921.5,840.2 L923.0,841.1 L924.5,841.9 L926.0,842.8 L927.5,843.7 L929.0,844.5 L930.5,845.4 L932.0,846.3 L933.5,847.2 L935.0,848.1 L936.5,849.0 L938.0,849.9 L939.5,850.9 L941.0,851.8 L942.5,852.7 L944.0,853.6 L945.5,854.6 L947.0,855.5 L948.5,856.4 L950.0,857.4 L951.5,858.3 L953.0,859.3 L954.5,860.2 L956.0,861.2 L957.5,862.2 L959.0,863.1 L960.5,864.1 L962.0,865.0 L963.5,865.8 L965.0,866.7 L966.5,867.6 L968.0,868.8 L969.5,869.7 L971.0,871.2 L972.5,873.3 L974.0,875.5 L975.5,877.6 L977.0,879.7 L978.5,881.9 L980.0,883.8 L981.5,885.4 L983.0,887.0 L984.5,888.7 L986.0,890.3 L987.5,891.7 L989.0,892.7 L990.5,893.7 L992.0,894.7 L993.5,895.0 L995.0,893.8 L996.5,892.6 L998.0,891.4 L999.5,890.5 L1001.0,891.5 L1002.5,892.5 L1004.0,893.5 L1005.5,894.5 L1007.0,895.5 L1008.5,896.5 L1010.0,897.5 L1011.5,898.5 L1013.0,899.4 L1014.5,900.4 L1016.0,901.4 L1017.5,902.3 L1019.0,903.3 L1020.5,904.3 L1022.0,905.2 L1023.5,906.1 L1025.0,906.3 L1026.5,906.6 L1028.0,907.5 L1029.5,908.7 L1031.0,909.9 L1032.5,911.0 L1034.0,912.2 L1035.5,913.3 L1037.0,913.6 L1038.5,913.6 L1040.0,914.3 L1041.5,916.0 L1043.0,917.8 L1044.5,919.5 L1046.0,921.2 L1047.5,923.0 L1049.0,924.7 L1050.5,926.5 L1052.0,928.4 L1053.5,930.4 L1055.0,932.4 L1056.5,934.4 L1058.0,936.4 L1059.5,938.5 L1061.0,940.5 L1062.5,942.5 L1064.0,944.5 L1065.5,946.5 L1067.0,948.1 L1068.5,949.6 L1070.0,951.1 L1071.5,952.5 L1073.0,954.0 L1074.5,955.5 L1076.0,957.1 L1077.5,959.4 L1079.0,961.7 L1080.5,964.1 L1082.0,966.4 L1083.5,968.7 L1085.0,971.1 L1086.5,973.4 L1088.0,974.9 L1089.5,975.6 L1091.0,978.1 L1092.5,980.9 L1094.0,983.7 L1095.5,986.5 L1097.0,989.3 L1098.5,992.1 L1100.0,993.1 L1101.5,994.1 L1103.0,996.0 L1104.5,998.7 L1106.0,1001.4 L1107.5,1004.1 L1109.0,1006.8 L1110.5,1009.5 L1112.0,1012.2 L1113.5,1014.9 L1115.0,1017.3 L1116.5,1018.1 L1118.0,1018.8 L1119.5,1019.6 L1121.0,1022.3 L1122.5,1025.5 L1124.0,1028.7 L1125.5,1031.9 L1127.0,1035.1 L1128.5,1038.3 L1130.0,1040.4 L1131.5,1042.4 L1133.0,1045.1 L1134.5,1048.5 L1136.0,1052.0 L1137.5,1055.4 L1139.0,1058.8 L1140.5,1062.2 L1142.0,1065.4 L1143.5,1068.4 L1145.0,1071.4 L1146.5,1074.3 L1148.0,1077.3 L1149.5,1080.3 L1151.0,1083.3 L1152.5,1085.2 L1154.0,1086.8 L1154.5,1087.4" stroke="#00f"/>
</g>
<g class="t" text-anchor="end">
<text x="157.1" y="808.9" textLength="66.2" lengthAdjust="spacingAndGlyphs">18000</text><text x="157.1" y="859.6" textLength="66.2" lengthAdjust="spacingAndGlyphs">16000</text><text x="157.1" y="961.0" textLength="66.2" lengthAdjust="spacingAndGlyphs">22000</text><text x="157.1" y="1011.7" textLength="66.2" lengthAdjust="spacingAndGlyphs">20000</text><text x="157.1" y="1062.4" textLength="66.2" lengthAdjust="spacingAndGlyphs">18000</text><text x="157.1" y="1113.1" textLength="66.2" lengthAdjust="spacingAndGlyphs">16000</text>
</g>
<g class="b" font-size="19.5" text-anchor="middle"><text transform="translate(53.4,949.0) rotate(-90)" textLength="174.3" lengthAdjust="spacingAndGlyphs">CRF Coordinates</text><text transform="translate(79.3,949.0) rotate(-90)" textLength="76.4" lengthAdjust="spacingAndGlyphs">BZ (nT)</text></g>
<g class="k" font-size="17"><text transform="translate(1176.3,1016.4) rotate(-90)" textLength="88.5" lengthAdjust="spacingAndGlyphs">Inboard B</text><text transform="translate(1196.3,1017.0) rotate(-90)" textLength="105.2" lengthAdjust="spacingAndGlyphs">Outboard B</text><text transform="translate(1215.2,1016.4) rotate(-90)" textLength="73.3" lengthAdjust="spacingAndGlyphs">Model B</text></g>
<g shape-rendering="crispEdges"><rect x="1170" y="1046" width="2" height="17" fill="#00f"/><rect x="1190" y="1046" width="2" height="17" fill="#0f0"/><rect x="1210" y="1046" width="2" height="17" fill="#f00"/></g>
</g>
<g id="panel4">
<g fill="#262626" shape-rendering="crispEdges">
<rect x="165" y="1142" width="990" height="1"/><rect x="165" y="1452" width="990" height="1"/><rect x="165" y="1142" width="1" height="311"/><rect x="1154" y="1142" width="1" height="311"/>
<rect x="412" y="1142" width="1" height="11"/><rect x="412" y="1442" width="1" height="11"/><rect x="660" y="1142" width="1" height="11"/><rect x="660" y="1442" width="1" height="11"/><rect x="907" y="1142" width="1" height="11"/><rect x="907" y="1442" width="1" height="11"/><rect x="1144" y="1194" width="10" height="1"/><rect x="166" y="1194" width="10" height="1"/><rect x="1144" y="1245" width="10" height="1"/><rect x="166" y="1245" width="10" height="1"/><rect x="1144" y="1297" width="10" height="1"/><rect x="166" y="1297" width="10" height="1"/><rect x="1144" y="1349" width="10" height="1"/><rect x="166" y="1349" width="10" height="1"/><rect x="1144" y="1400" width="10" height="1"/><rect x="166" y="1400" width="10" height="1"/>
</g>
<g fill="#d9d9d9" shape-rendering="crispEdges"><rect x="165" y="1146" width="48" height="303"/><rect x="304" y="1146" width="5" height="303"/><rect x="323" y="1146" width="4" height="303"/><rect x="409" y="1146" width="5" height="303"/><rect x="418" y="1146" width="4" height="303"/><rect x="424" y="1146" width="5" height="303"/><rect x="440" y="1146" width="4" height="303"/><rect x="453" y="1146" width="5" height="303"/><rect x="468" y="1146" width="5" height="303"/><rect x="475" y="1146" width="5" height="303"/><rect x="492" y="1146" width="4" height="303"/><rect x="607" y="1146" width="4" height="303"/><rect x="721" y="1146" width="5" height="303"/><rect x="768" y="1146" width="5" height="303"/><rect x="870" y="1146" width="4" height="303"/><rect x="976" y="1146" width="4" height="303"/><rect x="992" y="1146" width="8" height="303"/><rect x="1004" y="1146" width="5" height="303"/><rect x="1012" y="1146" width="4" height="303"/><rect x="1022" y="1146" width="4" height="303"/><rect x="1035" y="1146" width="6" height="303"/><rect x="1047" y="1146" width="5" height="303"/><rect x="1065" y="1146" width="4" height="303"/><rect x="1070" y="1146" width="7" height="303"/><rect x="1080" y="1146" width="4" height="303"/><rect x="1088" y="1146" width="16" height="303"/><rect x="1118" y="1146" width="17" height="303"/><rect x="1139" y="1146" width="4" height="303"/><rect x="1145" y="1146" width="9" height="303"/></g>
<g fill="none" stroke-width="2" stroke-linejoin="round" shape-rendering="crispEdges">
<path d="M165.1,1219.3 L167.1,1217.4 L169.1,1215.4 L171.1,1213.5 L173.1,1211.6 L175.1,1209.7 L177.1,1207.8 L179.1,1206.0 L181.1,1204.1 L183.1,1202.3 L185.1,1200.6 L187.1,1198.8 L189.1,1197.2 L191.1,1195.5 L193.1,1193.9 L195.1,1192.3 L197.1,1190.8 L199.1,1189.3 L201.1,1187.9 L203.1,1186.5 L205.1,1185.2 L207.1,1183.9 L209.1,1182.6 L211.1,1181.4 L213.1,1180.2 L215.1,1179.0 L217.1,1177.8 L219.1,1176.7 L221.1,1175.6 L223.1,1174.5 L225.1,1173.4 L227.1,1172.3 L229.1,1171.3 L231.1,1170.2 L233.1,1169.2 L235.1,1168.3 L237.1,1167.3 L239.1,1166.4 L241.1,1165.4 L243.1,1164.5 L245.1,1163.7 L247.1,1162.8 L249.1,1162.0 L251.1,1161.2 L253.1,1160.4 L255.1,1159.7 L257.1,1158.9 L259.1,1158.2 L261.1,1157.5 L263.1,1156.9 L265.1,1156.2 L267.1,1155.6 L269.1,1155.0 L271.1,1154.4 L273.1,1153.9 L275.1,1153.3 L277.1,1152.8 L279.1,1152.3 L281.1,1151.9 L283.1,1151.4 L285.1,1151.0 L287.1,1150.6 L289.1,1150.2 L291.1,1149.8 L293.1,1149.5 L295.1,1149.1 L297.1,1148.8 L299.1,1148.5 L301.1,1148.3 L303.1,1148.0 L305.1,1147.7 L307.1,1147.5 L309.1,1147.3 L311.1,1147.1 L313.1,1146.8 L315.1,1146.7 L317.1,1146.5 L319.1,1146.3 L321.1,1146.2 L323.1,1146.1 L325.1,1146.0 L327.1,1145.9 L329.1,1145.8 L331.1,1145.8 L333.1,1145.8 L335.1,1145.8 L337.1,1145.8 L339.1,1145.8 L341.1,1145.9 L343.1,1145.9 L345.1,1146.0 L347.1,1146.1 L349.1,1146.2 L351.1,1146.3 L353.1,1146.4 L355.1,1146.5 L357.1,1146.7 L359.1,1146.8 L361.1,1147.0 L363.1,1147.2 L365.1,1147.4 L367.1,1147.6 L369.1,1147.8 L371.1,1148.0 L373.1,1148.3 L375.1,1148.6 L377.1,1148.9 L379.1,1149.2 L381.1,1149.5 L383.1,1149.8 L385.1,1150.1 L387.1,1150.5 L389.1,1150.8 L391.1,1151.2 L393.1,1151.5 L395.1,1151.9 L397.1,1152.3 L399.1,1152.7 L401.1,1153.0 L403.1,1153.4 L405.1,1153.8 L407.1,1154.2 L409.1,1154.6 L411.1,1155.0 L413.1,1155.4 L415.1,1155.9 L417.1,1156.3 L419.1,1156.7 L421.1,1157.1 L423.1,1157.6 L425.1,1158.0 L427.1,1158.4 L429.1,1158.9 L431.1,1159.3 L433.1,1159.8 L435.1,1160.2 L437.1,1160.7 L439.1,1161.2 L442.1,1161.6 L444.1,1162.1 L446.1,1162.6 L448.1,1163.0 L450.1,1163.5 L452.1,1164.0 L454.1,1164.5 L456.1,1165.0 L458.1,1165.4 L460.1,1165.9 L462.1,1166.4 L464.1,1166.9 L466.1,1167.4 L468.1,1167.9 L470.1,1168.4 L472.1,1168.9 L474.1,1169.4 L476.1,1169.8 L478.1,1170.3 L480.1,1170.8 L482.1,1171.3 L484.1,1171.8 L486.1,1172.3 L488.1,1172.8 L490.1,1173.2 L492.1,1173.7 L494.1,1174.2 L496.1,1174.7 L498.1,1175.2 L500.1,1175.7 L502.1,1176.1 L504.1,1176.6 L506.1,1177.1 L508.1,1177.5 L510.1,1178.0 L512.1,1178.5 L514.1,1178.9 L516.1,1179.4 L518.1,1179.8 L520.1,1180.3 L522.1,1180.7 L524.1,1181.2 L526.1,1181.6 L528.1,1182.1 L530.1,1182.5 L532.1,1182.9 L534.1,1183.4 L536.1,1183.8 L538.1,1184.2 L540.1,1184.6 L542.1,1185.0 L544.1,1185.4 L546.1,1185.8 L548.1,1186.2 L550.1,1186.6 L552.1,1186.9 L554.1,1187.3 L556.1,1187.6 L558.1,1188.0 L560.1,1188.3 L562.1,1188.6 L564.1,1189.0 L566.1,1189.3 L568.1,1189.6 L570.1,1189.9 L572.1,1190.2 L574.1,1190.5 L576.1,1190.8 L578.1,1191.1 L580.1,1191.4 L582.1,1191.6 L584.1,1191.9 L586.1,1192.2 L588.1,1192.4 L590.1,1192.7 L592.1,1192.9 L594.1,1193.1 L596.1,1193.4 L598.1,1193.6 L600.1,1193.8 L602.1,1194.1 L604.1,1194.3 L606.1,1194.5 L608.1,1194.7 L610.1,1194.9 L612.1,1195.1 L614.1,1195.3 L616.1,1195.5 L618.1,1195.7 L620.1,1195.9 L622.1,1196.1 L624.1,1196.3 L626.1,1196.5 L628.1,1196.7 L630.1,1196.9 L632.1,1197.1 L634.1,1197.3 L636.1,1197.5 L638.1,1197.7 L640.1,1197.9 L642.1,1198.1 L644.1,1198.3 L646.1,1198.5 L648.1,1198.7 L650.1,1198.9 L652.1,1199.0 L654.1,1199.2 L656.1,1199.3 L658.1,1199.4 L660.1,1199.6 L662.1,1199.6 L664.1,1199.7 L666.1,1199.8 L668.1,1199.9 L670.1,1199.9 L672.1,1200.0 L674.1,1200.0 L676.1,1200.1 L678.1,1200.1 L680.1,1200.1 L682.1,1200.1 L684.1,1200.2 L686.1,1200.2 L688.1,1200.2 L690.1,1200.2 L692.1,1200.3 L694.1,1200.3 L696.1,1200.3 L698.1,1200.3 L700.1,1200.3 L702.1,1200.4 L704.1,1200.4 L706.1,1200.4 L708.1,1200.4 L710.1,1200.4 L712.1,1200.5 L714.1,1200.5 L716.1,1200.5 L718.1,1200.5 L720.1,1200.5 L722.1,1200.6 L724.1,1200.6 L726.1,1200.6 L728.1,1200.6 L730.1,1200.6 L732.1,1200.7 L734.1,1200.7 L736.1,1200.7 L738.1,1200.7 L740.1,1200.7 L742.1,1200.8 L744.1,1200.8 L746.1,1200.8 L748.1,1200.8 L750.1,1200.9 L752.1,1200.9 L754.1,1200.9 L756.1,1200.9 L758.1,1201.0 L760.1,1201.0 L762.1,1201.0 L764.1,1201.1 L766.1,1201.1 L768.1,1201.2 L770.1,1201.2 L772.1,1201.3 L774.1,1201.3 L776.1,1201.4 L778.1,1201.5 L780.1,1201.6 L782.1,1201.7 L784.1,1201.8 L786.1,1201.9 L788.1,1202.0 L790.1,1202.1 L792.1,1202.3 L794.1,1202.4 L796.1,1202.5 L798.1,1202.7 L800.1,1202.8 L802.1,1203.0 L804.1,1203.1 L806.1,1203.3 L808.1,1203.5 L810.1,1203.6 L812.1,1203.8 L814.1,1204.0 L816.1,1204.2 L818.1,1204.4 L820.1,1204.6 L822.1,1204.8 L824.1,1205.1 L826.1,1205.3 L828.1,1205.5 L830.1,1205.8 L832.1,1206.0 L834.1,1206.3 L836.1,1206.6 L838.1,1206.9 L840.1,1207.2 L842.1,1207.5 L844.1,1207.8 L846.1,1208.1 L848.1,1208.4 L850.1,1208.7 L852.1,1209.1 L854.1,1209.4 L856.1,1209.8 L858.1,1210.2 L860.1,1210.5 L862.1,1210.9 L864.1,1211.3 L866.1,1211.8 L868.1,1212.2 L870.1,1212.6 L872.1,1213.1 L874.1,1213.5 L876.1,1214.0 L878.1,1214.5 L880.1,1215.0 L882.1,1215.5 L884.1,1216.0 L886.1,1216.5 L888.1,1217.1 L890.1,1217.6 L892.1,1218.2 L894.1,1218.7 L896.1,1219.3 L898.1,1219.9 L900.1,1220.5 L902.1,1221.1 L904.1,1221.7 L906.1,1222.3 L908.1,1222.9 L910.1,1223.6 L912.1,1224.3 L914.1,1224.9 L916.1,1225.6 L918.1,1226.3 L920.1,1227.0 L922.1,1227.8 L924.1,1228.5 L926.1,1229.3 L928.1,1230.1 L930.1,1230.8 L931.1,1231.6 L933.1,1232.5 L935.1,1233.3 L937.1,1234.1 L939.1,1235.0 L941.1,1235.9 L943.1,1236.8 L945.1,1237.7 L947.1,1238.7 L949.1,1239.7 L951.1,1240.7 L953.1,1241.7 L955.1,1242.7 L957.1,1243.7 L959.1,1244.8 L961.1,1245.8 L963.1,1246.9 L965.1,1248.0 L967.1,1249.1 L969.1,1250.2 L971.1,1251.4 L973.1,1252.5 L975.1,1253.6 L977.1,1254.8 L979.1,1256.0 L981.1,1257.1 L983.1,1258.3 L985.1,1259.5 L987.1,1260.7 L989.1,1261.9 L991.1,1263.2 L993.1,1264.4 L995.1,1265.7 L997.1,1266.9 L999.1,1268.2 L1001.1,1269.5 L1003.1,1270.8 L1005.1,1272.1 L1007.1,1273.5 L1009.1,1274.8 L1011.1,1276.2 L1013.1,1277.6 L1015.1,1279.0 L1017.1,1280.4 L1019.1,1281.9 L1021.1,1283.3 L1023.1,1284.8 L1025.1,1286.3 L1027.1,1287.8 L1029.1,1289.3 L1031.1,1290.9 L1033.1,1292.5 L1035.1,1294.1 L1037.1,1295.7 L1039.1,1297.3 L1041.1,1299.0 L1043.1,1300.6 L1045.1,1302.3 L1047.1,1304.0 L1049.1,1305.7 L1051.1,1307.5 L1053.1,1309.2 L1055.1,1311.0 L1057.1,1312.8 L1059.1,1314.6 L1061.1,1316.4 L1063.1,1318.2 L1065.1,1320.1 L1067.1,1322.0 L1069.1,1323.9 L1071.1,1325.8 L1073.1,1327.7 L1075.1,1329.7 L1077.1,1331.7 L1079.1,1333.7 L1081.1,1335.7 L1083.1,1337.7 L1085.1,1339.8 L1087.1,1341.8 L1089.1,1343.9 L1091.1,1346.0 L1093.1,1348.1 L1095.1,1350.2 L1097.1,1352.3 L1099.1,1354.4 L1101.1,1356.6 L1103.1,1358.7 L1105.1,1360.8 L1107.1,1363.0 L1109.1,1365.1 L1111.1,1367.3 L1113.1,1369.5 L1115.1,1371.7 L1117.1,1373.9 L1119.1,1376.1 L1121.1,1378.3 L1123.1,1380.5 L1125.1,1382.7 L1127.1,1384.9 L1129.1,1387.1 L1131.1,1389.3 L1133.1,1391.6 L1135.1,1393.8 L1137.1,1396.0 L1139.1,1398.2 L1141.1,1400.5 L1143.1,1402.7 L1145.1,1404.9 L1147.1,1407.1 L1149.1,1409.4 L1151.1,1411.6 L1153.1,1413.8 L1154.1,1415.0" stroke="#f00"/>
<path d="M165.1,1219.3 L167.1,1217.4 L169.1,1215.4 L171.1,1213.5 L173.1,1211.6 L175.1,1209.7 L177.1,1207.8 L179.1,1206.0 L181.1,1204.1 L183.1,1202.3 L185.1,1200.6 L187.1,1198.8 L189.1,1197.2 L191.1,1195.5 L193.1,1193.9 L195.1,1192.3 L197.1,1190.8 L199.1,1189.3 L201.1,1187.9 L203.1,1186.5 L205.1,1185.2 L207.1,1183.9 L209.1,1182.6 L211.1,1181.4 L213.1,1180.2 L215.1,1179.0 L217.1,1177.8 L219.1,1176.7 L221.1,1175.6 L223.1,1174.5 L225.1,1173.4 L227.1,1172.3 L229.1,1171.3 L231.1,1170.2 L233.1,1169.2 L235.1,1168.3 L237.1,1167.3 L239.1,1166.4 L241.1,1165.4 L243.1,1164.5 L245.1,1163.7 L247.1,1162.8 L249.1,1162.0 L251.1,1161.2 L253.1,1160.4 L255.1,1159.7 L257.1,1158.9 L259.1,1158.2 L261.1,1157.5 L263.1,1156.9 L265.1,1156.2 L267.1,1155.6 L269.1,1155.0 L271.1,1154.4 L273.1,1153.9 L275.1,1153.3 L277.1,1152.8 L279.1,1152.3 L281.1,1151.9 L283.1,1151.4 L285.1,1151.0 L287.1,1150.6 L289.1,1150.2 L291.1,1149.8 L293.1,1149.5 L295.1,1149.1 L297.1,1148.8 L299.1,1148.5 L301.1,1148.3 L303.1,1148.0 L305.1,1147.7 L307.1,1147.5 L309.1,1147.3 L311.1,1147.1 L313.1,1146.8 L315.1,1146.7 L317.1,1146.5 L319.1,1146.3 L321.1,1146.2 L323.1,1146.1 L325.1,1146.0 L327.1,1145.9 L329.1,1145.8 L331.1,1145.8 L333.1,1145.8 L335.1,1145.8 L337.1,1145.8 L339.1,1145.8 L341.1,1145.9 L343.1,1145.9 L345.1,1146.0 L347.1,1146.1 L349.1,1146.2 L351.1,1146.3 L353.1,1146.4 L355.1,1146.5 L357.1,1146.7 L359.1,1146.8 L361.1,1147.0 L363.1,1147.2 L365.1,1147.4 L367.1,1147.6 L369.1,1147.8 L371.1,1148.0 L373.1,1148.3 L375.1,1148.6 L377.1,1148.9 L379.1,1149.2 L381.1,1149.5 L383.1,1149.8 L385.1,1150.1 L387.1,1150.5 L389.1,1150.8 L391.1,1151.2 L393.1,1151.5 L395.1,1151.9 L397.1,1152.3 L399.1,1152.7 L401.1,1153.0 L403.1,1153.4 L405.1,1153.8 L407.1,1154.2 L409.1,1154.6 L411.1,1155.0 L413.1,1155.4 L415.1,1155.9 L417.1,1156.3 L419.1,1156.7 L421.1,1157.1 L423.1,1157.6 L425.1,1158.0 L427.1,1158.4 L429.1,1158.9 L431.1,1159.3 L433.1,1159.8 L435.1,1160.2 L437.1,1160.7 L439.1,1161.2 L441.1,1161.6 L441.6,1161.7" stroke="#0f0"/>
<path d="M441.6,1161.7 L443.1,1162.1 L445.1,1162.6 L447.1,1163.0 L449.1,1163.5 L451.1,1164.0 L453.1,1164.5 L455.1,1165.0 L457.1,1165.4 L459.1,1165.9 L461.1,1166.4 L463.1,1166.9 L465.1,1167.4 L467.1,1167.9 L469.1,1168.4 L471.1,1168.9 L473.1,1169.4 L475.1,1169.8 L477.1,1170.3 L479.1,1170.8 L481.1,1171.3 L483.1,1171.8 L485.1,1172.3 L487.1,1172.8 L489.1,1173.2 L491.1,1173.7 L493.1,1174.2 L495.1,1174.7 L497.1,1175.2 L499.1,1175.7 L501.1,1176.1 L503.1,1176.6 L505.1,1177.1 L507.1,1177.5 L509.1,1178.0 L511.1,1178.5 L513.1,1178.9 L515.1,1179.4 L517.1,1179.8 L519.1,1180.3 L521.1,1180.7 L523.1,1181.2 L525.1,1181.6 L527.1,1182.1 L529.1,1182.5 L531.1,1182.9 L533.1,1183.4 L535.1,1183.8 L537.1,1184.2 L539.1,1184.6 L541.1,1185.0 L543.1,1185.4 L545.1,1185.8 L547.1,1186.2 L549.1,1186.6 L551.1,1186.9 L553.1,1187.3 L555.1,1187.6 L557.1,1188.0 L559.1,1188.3 L561.1,1188.6 L563.1,1189.0 L565.1,1189.3 L567.1,1189.6 L569.1,1189.9 L571.1,1190.2 L573.1,1190.5 L575.1,1190.8 L577.1,1191.1 L579.1,1191.4 L581.1,1191.6 L583.1,1191.9 L585.1,1192.2 L587.1,1192.4 L589.1,1192.7 L591.1,1192.9 L593.1,1193.1 L595.1,1193.4 L597.1,1193.6 L599.1,1193.8 L601.1,1194.1 L603.1,1194.3 L605.1,1194.5 L607.1,1194.7 L609.1,1194.9 L611.1,1195.1 L613.1,1195.3 L615.1,1195.5 L617.1,1195.7 L619.1,1195.9 L621.1,1196.1 L623.1,1196.3 L625.1,1196.5 L627.1,1196.7 L629.1,1196.9 L631.1,1197.1 L633.1,1197.3 L635.1,1197.5 L637.1,1197.7 L639.1,1197.9 L641.1,1198.1 L643.1,1198.3 L645.1,1198.5 L647.1,1198.7 L649.1,1198.9 L651.1,1199.0 L653.1,1199.2 L655.1,1199.3 L657.1,1199.4 L659.1,1199.6 L661.1,1199.6 L663.1,1199.7 L665.1,1199.8 L667.1,1199.9 L669.1,1199.9 L671.1,1200.0 L673.1,1200.0 L675.1,1200.1 L677.1,1200.1 L679.1,1200.1 L681.1,1200.1 L683.1,1200.2 L685.1,1200.2 L687.1,1200.2 L689.1,1200.2 L691.1,1200.3 L693.1,1200.3 L695.1,1200.3 L697.1,1200.3 L699.1,1200.3 L701.1,1200.4 L703.1,1200.4 L705.1,1200.4 L707.1,1200.4 L709.1,1200.4 L711.1,1200.5 L713.1,1200.5 L715.1,1200.5 L717.1,1200.5 L719.1,1200.5 L721.1,1200.6 L723.1,1200.6 L725.1,1200.6 L727.1,1200.6 L729.1,1200.6 L731.1,1200.7 L733.1,1200.7 L735.1,1200.7 L737.1,1200.7 L739.1,1200.7 L741.1,1200.8 L743.1,1200.8 L745.1,1200.8 L747.1,1200.8 L749.1,1200.9 L751.1,1200.9 L753.1,1200.9 L755.1,1200.9 L757.1,1201.0 L759.1,1201.0 L761.1,1201.0 L763.1,1201.1 L765.1,1201.1 L767.1,1201.2 L769.1,1201.2 L771.1,1201.3 L773.1,1201.3 L775.1,1201.4 L777.1,1201.5 L779.1,1201.6 L781.1,1201.7 L783.1,1201.8 L785.1,1201.9 L787.1,1202.0 L789.1,1202.1 L791.1,1202.3 L793.1,1202.4 L795.1,1202.5 L797.1,1202.7 L799.1,1202.8 L801.1,1203.0 L803.1,1203.1 L805.1,1203.3 L807.1,1203.5 L809.1,1203.6 L811.1,1203.8 L813.1,1204.0 L815.1,1204.2 L817.1,1204.4 L819.1,1204.6 L821.1,1204.8 L823.1,1205.1 L825.1,1205.3 L827.1,1205.5 L829.1,1205.8 L831.1,1206.0 L833.1,1206.3 L835.1,1206.6 L837.1,1206.9 L839.1,1207.2 L841.1,1207.5 L843.1,1207.8 L845.1,1208.1 L847.1,1208.4 L849.1,1208.7 L851.1,1209.1 L853.1,1209.4 L855.1,1209.8 L857.1,1210.2 L859.1,1210.5 L861.1,1210.9 L863.1,1211.3 L865.1,1211.8 L867.1,1212.2 L869.1,1212.6 L871.1,1213.1 L873.1,1213.5 L875.1,1214.0 L877.1,1214.5 L879.1,1215.0 L881.1,1215.5 L883.1,1216.0 L885.1,1216.5 L887.1,1217.1 L889.1,1217.6 L891.1,1218.2 L893.1,1218.7 L895.1,1219.3 L897.1,1219.9 L899.1,1220.5 L901.1,1221.1 L903.1,1221.7 L905.1,1222.3 L907.1,1222.9 L909.1,1223.6 L911.1,1224.3 L913.1,1224.9 L915.1,1225.6 L917.1,1226.3 L919.1,1227.0 L921.1,1227.8 L923.1,1228.5 L925.1,1229.3 L927.1,1230.1 L929.1,1230.8 L931.1,1231.6 L933.1,1232.5 L935.1,1233.3 L937.1,1234.1 L939.1,1235.0 L941.1,1235.9 L943.1,1236.8 L945.1,1237.7 L947.1,1238.7 L949.1,1239.7 L951.1,1240.7 L953.1,1241.7 L955.1,1242.7 L957.1,1243.7 L959.1,1244.8 L961.1,1245.8 L963.1,1246.9 L965.1,1248.0 L967.1,1249.1 L969.1,1250.2 L971.1,1251.4 L973.1,1252.5 L975.1,1253.6 L977.1,1254.8 L979.1,1256.0 L981.1,1257.1 L983.1,1258.3 L985.1,1259.5 L987.1,1260.7 L989.1,1261.9 L991.1,1263.2 L993.1,1264.4 L995.1,1265.7 L997.1,1266.9 L999.1,1268.2 L1001.1,1269.5 L1003.1,1270.8 L1005.1,1272.1 L1007.1,1273.5 L1009.1,1274.8 L1011.1,1276.2 L1013.1,1277.6 L1015.1,1279.0 L1017.1,1280.4 L1019.1,1281.9 L1021.1,1283.3 L1023.1,1284.8 L1025.1,1286.3 L1027.1,1287.8 L1029.1,1289.3 L1031.1,1290.9 L1033.1,1292.5 L1035.1,1294.1 L1037.1,1295.7 L1039.1,1297.3 L1041.1,1299.0 L1043.1,1300.6 L1045.1,1302.3 L1047.1,1304.0 L1049.1,1305.7 L1051.1,1307.5 L1053.1,1309.2 L1055.1,1311.0 L1057.1,1312.8 L1059.1,1314.6 L1061.1,1316.4 L1063.1,1318.2 L1065.1,1320.1 L1067.1,1322.0 L1069.1,1323.9 L1071.1,1325.8 L1073.1,1327.7 L1075.1,1329.7 L1077.1,1331.7 L1079.1,1333.7 L1081.1,1335.7 L1083.1,1337.7 L1085.1,1339.8 L1087.1,1341.8 L1089.1,1343.9 L1091.1,1346.0 L1093.1,1348.1 L1095.1,1350.2 L1097.1,1352.3 L1099.1,1354.4 L1101.1,1356.6 L1103.1,1358.7 L1105.1,1360.8 L1107.1,1363.0 L1109.1,1365.1 L1111.1,1367.3 L1113.1,1369.5 L1115.1,1371.7 L1117.1,1373.9 L1119.1,1376.1 L1121.1,1378.3 L1123.1,1380.5 L1125.1,1382.7 L1127.1,1384.9 L1129.1,1387.1 L1131.1,1389.3 L1133.1,1391.6 L1135.1,1393.8 L1137.1,1396.0 L1139.1,1398.2 L1141.1,1400.5 L1143.1,1402.7 L1145.1,1404.9 L1147.1,1407.1 L1149.1,1409.4 L1151.1,1411.6 L1153.1,1413.8 L1154.1,1415.0" stroke="#00f"/>
</g>
<g class="t" text-anchor="end">
<text x="157.1" y="1149.1" textLength="66.2" lengthAdjust="spacingAndGlyphs">36000</text><text x="157.1" y="1200.8" textLength="66.2" lengthAdjust="spacingAndGlyphs">35000</text><text x="157.1" y="1252.4" textLength="66.2" lengthAdjust="spacingAndGlyphs">34000</text><text x="157.1" y="1304.1" textLength="66.2" lengthAdjust="spacingAndGlyphs">33000</text><text x="157.1" y="1355.8" textLength="66.2" lengthAdjust="spacingAndGlyphs">32000</text><text x="157.1" y="1407.4" textLength="66.2" lengthAdjust="spacingAndGlyphs">31000</text><text x="157.1" y="1459.1" textLength="66.2" lengthAdjust="spacingAndGlyphs">30000</text>
</g>
<g class="b" font-size="19.5" text-anchor="middle"><text transform="translate(53.4,1298.0) rotate(-90)" textLength="174.3" lengthAdjust="spacingAndGlyphs">CRF Coordinates</text><text transform="translate(79.3,1298.0) rotate(-90)" textLength="75.4" lengthAdjust="spacingAndGlyphs">|B| (nT)</text></g>
<g class="k" font-size="17"><text transform="translate(1176.3,1358.1) rotate(-90)" textLength="88.8" lengthAdjust="spacingAndGlyphs">Inboard B</text><text transform="translate(1196.3,1358.7) rotate(-90)" textLength="105.5" lengthAdjust="spacingAndGlyphs">Outboard B</text><text transform="translate(1215.2,1358.1) rotate(-90)" textLength="73.3" lengthAdjust="spacingAndGlyphs">Model B</text></g>
<g shape-rendering="crispEdges"><rect x="1170" y="1389" width="2" height="17" fill="#00f"/><rect x="1190" y="1389" width="2" height="17" fill="#0f0"/><rect x="1210" y="1389" width="2" height="17" fill="#f00"/></g>
</g>
<g class="k" font-size="17.5" id="table">
<text x="23.6" y="1484" textLength="51.6" lengthAdjust="spacingAndGlyphs">Time:</text><text x="165.5" y="1484" text-anchor="middle" textLength="81.6" lengthAdjust="spacingAndGlyphs">22:43:46</text><text x="412.5" y="1484" text-anchor="middle" textLength="81.6" lengthAdjust="spacingAndGlyphs">22:51:05</text><text x="660" y="1484" text-anchor="middle" textLength="81.6" lengthAdjust="spacingAndGlyphs">22:58:23</text><text x="907.5" y="1484" text-anchor="middle" textLength="81.6" lengthAdjust="spacingAndGlyphs">23:05:41</text><text x="1154.5" y="1484" text-anchor="middle" textLength="81.6" lengthAdjust="spacingAndGlyphs">23:12:59</text>
<text x="23.6" y="1508.5" textLength="85.0" lengthAdjust="spacingAndGlyphs">Rad(km):</text><text x="165.5" y="1508.5" text-anchor="middle" textLength="63.3" lengthAdjust="spacingAndGlyphs">7210.8</text><text x="412.5" y="1508.5" text-anchor="middle" textLength="63.3" lengthAdjust="spacingAndGlyphs">7403.9</text><text x="660" y="1508.5" text-anchor="middle" textLength="63.3" lengthAdjust="spacingAndGlyphs">7548.3</text><text x="907.5" y="1508.5" text-anchor="middle" textLength="63.3" lengthAdjust="spacingAndGlyphs">7621.3</text><text x="1154.5" y="1508.5" text-anchor="middle" textLength="63.3" lengthAdjust="spacingAndGlyphs">7612.0</text>
<text x="23.6" y="1533" textLength="35.9" lengthAdjust="spacingAndGlyphs">Lat:</text><text x="165.5" y="1533" text-anchor="middle" textLength="40.5" lengthAdjust="spacingAndGlyphs">43.4</text><text x="412.5" y="1533" text-anchor="middle" textLength="40.5" lengthAdjust="spacingAndGlyphs">67.4</text><text x="660" y="1533" text-anchor="middle" textLength="40.5" lengthAdjust="spacingAndGlyphs">80.5</text><text x="907.5" y="1533" text-anchor="middle" textLength="40.5" lengthAdjust="spacingAndGlyphs">62.3</text><text x="1154.5" y="1533" text-anchor="middle" textLength="40.5" lengthAdjust="spacingAndGlyphs">40.1</text>
<text x="23.6" y="1558" textLength="40.0" lengthAdjust="spacingAndGlyphs">Lon:</text><text x="165.5" y="1558" text-anchor="middle" textLength="47.3" lengthAdjust="spacingAndGlyphs">-62.9</text><text x="412.5" y="1558" text-anchor="middle" textLength="47.3" lengthAdjust="spacingAndGlyphs">-51.0</text><text x="660" y="1558" text-anchor="middle" textLength="40.5" lengthAdjust="spacingAndGlyphs">33.5</text><text x="907.5" y="1558" text-anchor="middle" textLength="40.5" lengthAdjust="spacingAndGlyphs">85.2</text><text x="1154.5" y="1558" text-anchor="middle" textLength="40.5" lengthAdjust="spacingAndGlyphs">93.4</text>
<text x="23.6" y="1583" textLength="47.4" lengthAdjust="spacingAndGlyphs">Mlat:</text><text x="165.5" y="1583" text-anchor="middle" textLength="40.5" lengthAdjust="spacingAndGlyphs">52.6</text><text x="412.5" y="1583" text-anchor="middle" textLength="40.5" lengthAdjust="spacingAndGlyphs">75.6</text><text x="660" y="1583" text-anchor="middle" textLength="40.5" lengthAdjust="spacingAndGlyphs">74.9</text><text x="907.5" y="1583" text-anchor="middle" textLength="40.5" lengthAdjust="spacingAndGlyphs">53.5</text><text x="1154.5" y="1583" text-anchor="middle" textLength="40.5" lengthAdjust="spacingAndGlyphs">31.0</text>
<text x="23.6" y="1606.8" textLength="36.4" lengthAdjust="spacingAndGlyphs">Mlt:</text><text x="165.5" y="1606.8" text-anchor="middle" textLength="63.3" lengthAdjust="spacingAndGlyphs">18.307</text><text x="412.5" y="1606.8" text-anchor="middle" textLength="63.3" lengthAdjust="spacingAndGlyphs">19.979</text><text x="660" y="1606.8" text-anchor="middle" textLength="51.9" lengthAdjust="spacingAndGlyphs">3.254</text><text x="907.5" y="1606.8" text-anchor="middle" textLength="51.9" lengthAdjust="spacingAndGlyphs">4.751</text><text x="1154.5" y="1606.8" text-anchor="middle" textLength="51.9" lengthAdjust="spacingAndGlyphs">5.181</text>
<text x="1.5" y="1644.7" textLength="1261.5" lengthAdjust="spacingAndGlyphs">Summary of MGF_20210217_224346_231259_v2.1.0.lv2 on 19-Jun-2024 11:18:56 (calibration cas_mgf_7day_cal_2021_02_12_v2.1.mat )</text>
</g>
</svg>
</body></html>
